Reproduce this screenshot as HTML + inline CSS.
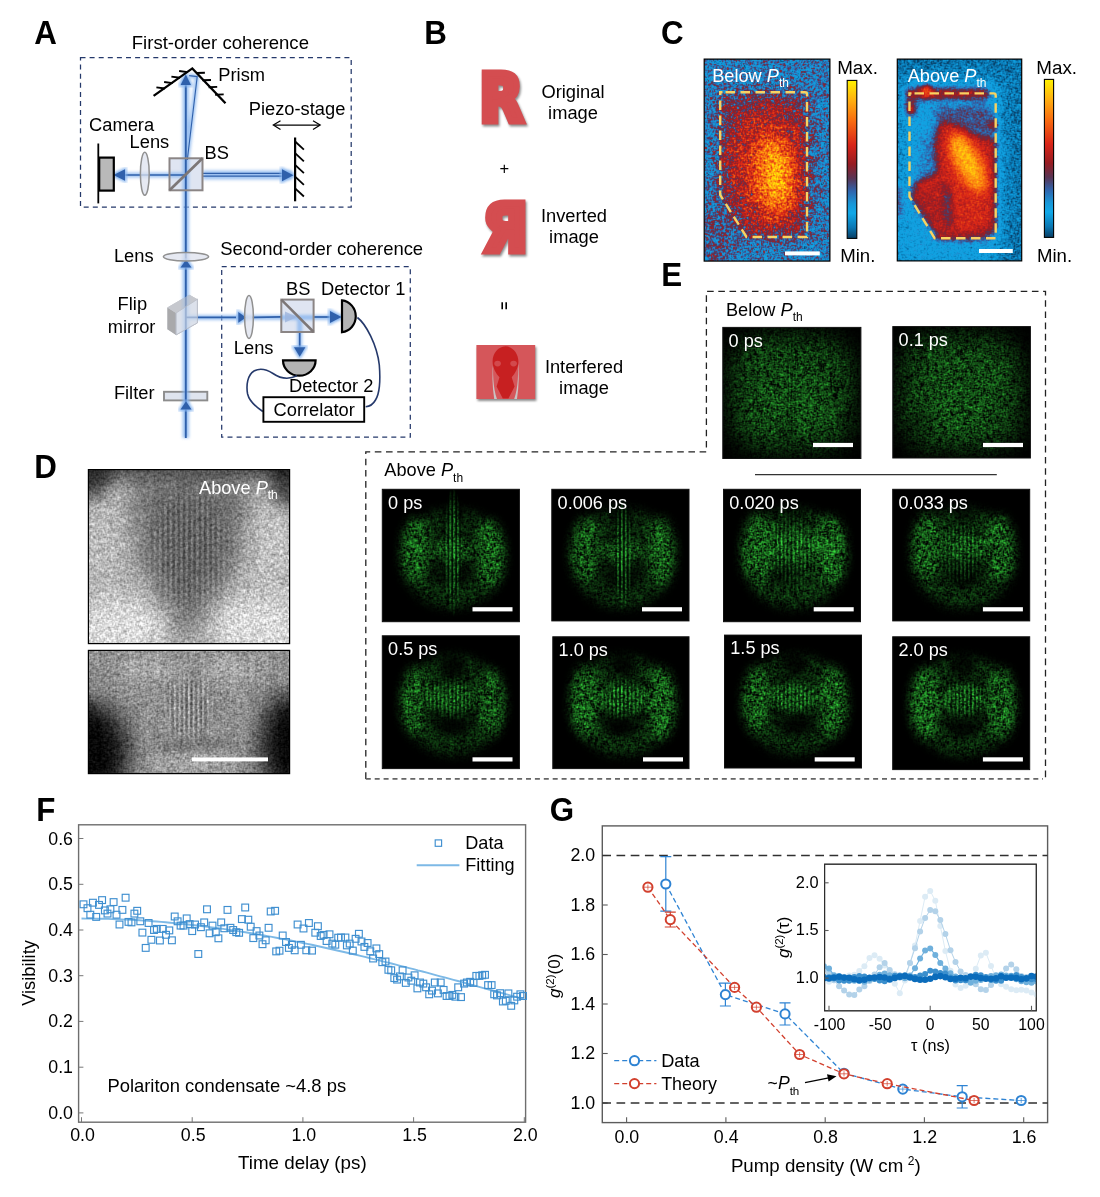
<!DOCTYPE html>
<html lang="en"><head><meta charset="utf-8"><title>Figure</title>
<style>
html,body{margin:0;padding:0;background:#fff;}
body{width:1100px;height:1197px;overflow:hidden;}
svg{display:block;font-family:"Liberation Sans", sans-serif;}
</style></head><body>
<svg width="1100" height="1197" viewBox="0 0 1100 1197">
<defs>
<filter id="glow" x="-20%" y="-20%" width="140%" height="140%" color-interpolation-filters="sRGB"><feGaussianBlur stdDeviation="1.6"/></filter>
<filter id="shadowB" x="-20%" y="-20%" width="150%" height="150%" color-interpolation-filters="sRGB"><feDropShadow dx="1.2" dy="2" stdDeviation="1.3" flood-color="#000" flood-opacity="0.45"/></filter>
<filter id="bl3" x="-50%" y="-50%" width="200%" height="200%" color-interpolation-filters="sRGB"><feGaussianBlur stdDeviation="3"/></filter>
<filter id="bl5" x="-50%" y="-50%" width="200%" height="200%" color-interpolation-filters="sRGB"><feGaussianBlur stdDeviation="5"/></filter>
<filter id="bl8" x="-50%" y="-50%" width="200%" height="200%" color-interpolation-filters="sRGB"><feGaussianBlur stdDeviation="8"/></filter>
<filter id="bl12" x="-50%" y="-50%" width="200%" height="200%" color-interpolation-filters="sRGB"><feGaussianBlur stdDeviation="12"/></filter>
<clipPath id="clipC1"><rect x="704.2" y="59.1" width="125.7" height="202"/></clipPath>
<filter id="cmC1" filterUnits="userSpaceOnUse" x="703.2" y="58.1" width="127.7" height="204" color-interpolation-filters="sRGB">
<feTurbulence type="fractalNoise" baseFrequency="2.3" numOctaves="1" seed="4" result="t"/>
<feColorMatrix in="t" type="matrix" values="1 0 0 0 0  1 0 0 0 0  1 0 0 0 0  0 0 0 0 1" result="n0"/>
<feConvolveMatrix in="n0" order="3" kernelMatrix="0 1 0 1 4 1 0 1 0" divisor="8" edgeMode="duplicate" preserveAlpha="true" result="n"/>
<feComposite in="SourceGraphic" in2="n" operator="arithmetic" k1="0" k2="1" k3="1.55" k4="-0.775" result="s"/>
<feComponentTransfer in="s" result="c"><feFuncR type="table" tableValues="0.031 0.034 0.037 0.041 0.047 0.054 0.060 0.071 0.084 0.100 0.129 0.159 0.188 0.237 0.286 0.335 0.399 0.467 0.534 0.599 0.653 0.707 0.761 0.815 0.855 0.876 0.897 0.918 0.939 0.960 0.975 0.980 0.985 0.990 0.995 1.000 1.000 1.000 1.000 1.000 1.000"/><feFuncG type="table" tableValues="0.243 0.324 0.406 0.481 0.533 0.586 0.638 0.641 0.612 0.576 0.515 0.453 0.392 0.333 0.275 0.216 0.183 0.157 0.131 0.111 0.118 0.124 0.131 0.137 0.159 0.205 0.251 0.297 0.342 0.388 0.436 0.487 0.538 0.589 0.639 0.690 0.742 0.794 0.845 0.897 0.949"/><feFuncB type="table" tableValues="0.392 0.504 0.616 0.717 0.774 0.831 0.887 0.893 0.865 0.833 0.780 0.727 0.675 0.567 0.459 0.351 0.286 0.231 0.177 0.132 0.124 0.115 0.107 0.099 0.092 0.087 0.082 0.076 0.071 0.066 0.063 0.063 0.063 0.063 0.063 0.063 0.050 0.038 0.025 0.013 0.000"/><feFuncA type="linear" slope="0" intercept="1"/></feComponentTransfer>
<feConvolveMatrix in="c" order="3" kernelMatrix="0 1 0 1 8 1 0 1 0" divisor="12" edgeMode="duplicate" preserveAlpha="true"/>
</filter>
<linearGradient id="cbar" x1="0" y1="0" x2="0" y2="1"><stop offset="0.000" stop-color="rgb(255, 242, 0)"/><stop offset="0.125" stop-color="rgb(255, 176, 16)"/><stop offset="0.260" stop-color="rgb(248, 106, 16)"/><stop offset="0.410" stop-color="rgb(216, 36, 24)"/><stop offset="0.530" stop-color="rgb(150, 28, 34)"/><stop offset="0.620" stop-color="rgb(88, 52, 84)"/><stop offset="0.700" stop-color="rgb(48, 100, 172)"/><stop offset="0.780" stop-color="rgb(24, 150, 215)"/><stop offset="0.840" stop-color="rgb(16, 168, 232)"/><stop offset="0.930" stop-color="rgb(10, 120, 180)"/><stop offset="1.000" stop-color="rgb(8, 62, 100)"/></linearGradient>
<clipPath id="clipC2"><rect x="897.3" y="59.1" width="124.4" height="201.8"/></clipPath>
<filter id="cmC2" filterUnits="userSpaceOnUse" x="896.3" y="58.1" width="126.4" height="203.8" color-interpolation-filters="sRGB">
<feTurbulence type="fractalNoise" baseFrequency="2.3" numOctaves="1" seed="9" result="t"/>
<feColorMatrix in="t" type="matrix" values="1 0 0 0 0  1 0 0 0 0  1 0 0 0 0  0 0 0 0 1" result="n0"/>
<feConvolveMatrix in="n0" order="3" kernelMatrix="0 1 0 1 4 1 0 1 0" divisor="8" edgeMode="duplicate" preserveAlpha="true" result="n"/>
<feComposite in="SourceGraphic" in2="n" operator="arithmetic" k1="0" k2="1" k3="0.66" k4="-0.33" result="s"/>
<feComponentTransfer in="s" result="c"><feFuncR type="table" tableValues="0.031 0.034 0.037 0.041 0.047 0.054 0.060 0.071 0.084 0.100 0.129 0.159 0.188 0.237 0.286 0.335 0.399 0.467 0.534 0.599 0.653 0.707 0.761 0.815 0.855 0.876 0.897 0.918 0.939 0.960 0.975 0.980 0.985 0.990 0.995 1.000 1.000 1.000 1.000 1.000 1.000"/><feFuncG type="table" tableValues="0.243 0.324 0.406 0.481 0.533 0.586 0.638 0.641 0.612 0.576 0.515 0.453 0.392 0.333 0.275 0.216 0.183 0.157 0.131 0.111 0.118 0.124 0.131 0.137 0.159 0.205 0.251 0.297 0.342 0.388 0.436 0.487 0.538 0.589 0.639 0.690 0.742 0.794 0.845 0.897 0.949"/><feFuncB type="table" tableValues="0.392 0.504 0.616 0.717 0.774 0.831 0.887 0.893 0.865 0.833 0.780 0.727 0.675 0.567 0.459 0.351 0.286 0.231 0.177 0.132 0.124 0.115 0.107 0.099 0.092 0.087 0.082 0.076 0.071 0.066 0.063 0.063 0.063 0.063 0.063 0.063 0.050 0.038 0.025 0.013 0.000"/><feFuncA type="linear" slope="0" intercept="1"/></feComponentTransfer>
<feConvolveMatrix in="c" order="3" kernelMatrix="0 1 0 1 8 1 0 1 0" divisor="12" edgeMode="duplicate" preserveAlpha="true"/>
</filter>
<pattern id="fr53" patternUnits="userSpaceOnUse" x="0" y="0" width="5.3" height="10"><rect x="0" y="0" width="2.4" height="10" fill="#fff"/><rect x="2.65" y="0" width="2.4" height="10" fill="#000"/></pattern>
<pattern id="fr47" patternUnits="userSpaceOnUse" x="0" y="0" width="4.7" height="10"><rect x="0" y="0" width="2.1" height="10" fill="#fff"/><rect x="2.35" y="0" width="2.1" height="10" fill="#000"/></pattern>
<radialGradient id="frMask1"><stop offset="0" stop-color="#fff" stop-opacity="1"/><stop offset="0.6" stop-color="#fff" stop-opacity="0.8"/><stop offset="1" stop-color="#fff" stop-opacity="0"/></radialGradient>
<mask id="mD1" maskUnits="userSpaceOnUse" x="80" y="460" width="220" height="200"><ellipse cx="188" cy="550" rx="48" ry="75" fill="url(#frMask1)"/></mask>
<mask id="mD2" maskUnits="userSpaceOnUse" x="80" y="640" width="220" height="140"><ellipse cx="189" cy="708" rx="30" ry="38" fill="url(#frMask1)"/></mask>
<clipPath id="clipD1"><rect x="88.4" y="469.6" width="201.2" height="174"/></clipPath>
<filter id="gD1" filterUnits="userSpaceOnUse" x="87.4" y="468.6" width="203.2" height="176" color-interpolation-filters="sRGB">
<feTurbulence type="fractalNoise" baseFrequency="2.3" numOctaves="1" seed="11" result="t"/>
<feColorMatrix in="t" type="matrix" values="1 0 0 0 0  1 0 0 0 0  1 0 0 0 0  0 0 0 0 1" result="n0"/>
<feConvolveMatrix in="n0" order="3" kernelMatrix="0 1 0 1 4 1 0 1 0" divisor="8" edgeMode="duplicate" preserveAlpha="true" result="n"/>
<feComposite in="SourceGraphic" in2="n" operator="arithmetic" k1="1.26" k2="0.37" k3="0.42000000000000004" k4="-0.21000000000000002" result="s"/>
<feConvolveMatrix in="s" order="3" kernelMatrix="0 1 0 1 8 1 0 1 0" divisor="12" edgeMode="duplicate" preserveAlpha="true"/>
</filter>
<clipPath id="clipD2"><rect x="88.4" y="650.4" width="201.2" height="123.2"/></clipPath>
<filter id="gD2" filterUnits="userSpaceOnUse" x="87.4" y="649.4" width="203.2" height="125.2" color-interpolation-filters="sRGB">
<feTurbulence type="fractalNoise" baseFrequency="2.3" numOctaves="1" seed="17" result="t"/>
<feColorMatrix in="t" type="matrix" values="1 0 0 0 0  1 0 0 0 0  1 0 0 0 0  0 0 0 0 1" result="n0"/>
<feConvolveMatrix in="n0" order="3" kernelMatrix="0 1 0 1 4 1 0 1 0" divisor="8" edgeMode="duplicate" preserveAlpha="true" result="n"/>
<feComposite in="SourceGraphic" in2="n" operator="arithmetic" k1="1.5" k2="0.25" k3="0.5" k4="-0.25" result="s"/>
<feConvolveMatrix in="s" order="3" kernelMatrix="0 1 0 1 8 1 0 1 0" divisor="12" edgeMode="duplicate" preserveAlpha="true"/>
</filter>
<pattern id="fr39w" patternUnits="userSpaceOnUse" x="0.9" y="0" width="3.9" height="10"><rect x="0" y="0" width="1.7" height="10" fill="#fff"/></pattern>
<pattern id="fr39b" patternUnits="userSpaceOnUse" x="0.9" y="0" width="3.9" height="10"><rect x="1.9" y="0" width="1.8" height="10" fill="#000"/></pattern>
<pattern id="fr39g" patternUnits="userSpaceOnUse" x="0.9" y="0" width="3.9" height="10"><rect x="0" y="0" width="1.6" height="10" fill="#35c845"/></pattern>
<pattern id="fr39k" patternUnits="userSpaceOnUse" x="0.9" y="0" width="3.9" height="10"><rect x="1.9" y="0" width="1.8" height="10" fill="#001a04"/></pattern>
<filter id="blF" x="-5%" y="-5%" width="110%" height="110%" color-interpolation-filters="sRGB"><feGaussianBlur stdDeviation="0.45 0.1"/></filter>
<radialGradient id="softW"><stop offset="0" stop-color="#fff" stop-opacity="1"/><stop offset="0.55" stop-color="#fff" stop-opacity="0.75"/><stop offset="1" stop-color="#fff" stop-opacity="0"/></radialGradient>
<radialGradient id="softK"><stop offset="0" stop-color="#000" stop-opacity="1"/><stop offset="0.5" stop-color="#000" stop-opacity="0.7"/><stop offset="1" stop-color="#000" stop-opacity="0"/></radialGradient>
<clipPath id="clipE1"><rect x="722.8" y="327.4" width="138.1" height="131.1"/></clipPath>
<filter id="gE1" filterUnits="userSpaceOnUse" x="721.8" y="326.4" width="140.1" height="133.1" color-interpolation-filters="sRGB">
<feTurbulence type="fractalNoise" baseFrequency="2.3" numOctaves="1" seed="21" result="t"/>
<feColorMatrix in="t" type="matrix" values="1 0 0 0 0  1 0 0 0 0  1 0 0 0 0  0 0 0 0 1" result="n0"/>
<feConvolveMatrix in="n0" order="3" kernelMatrix="0 1 0 1 4 1 0 1 0" divisor="8" edgeMode="duplicate" preserveAlpha="true" result="n"/>
<feComposite in="SourceGraphic" in2="n" operator="arithmetic" k1="5.2" k2="-2.08" k3="0" k4="0" result="s"/>
<feColorMatrix in="s" type="matrix" values="0.22 0 0 0 0  0.9 0 0 0 0  0.25 0 0 0 0  0 0 0 0 1" result="c"/>
<feConvolveMatrix in="c" order="3" kernelMatrix="0 1 0 1 8 1 0 1 0" divisor="12" edgeMode="duplicate" preserveAlpha="true"/>
</filter>
<mask id="mE1" maskUnits="userSpaceOnUse" x="722.8" y="327.4" width="138.1" height="131.1"><ellipse cx="791.8499999999999" cy="386.395" rx="8" ry="50" fill="url(#softW)"/></mask>
<clipPath id="clipE2"><rect x="892.8" y="326.6" width="137.6" height="131.4"/></clipPath>
<filter id="gE2" filterUnits="userSpaceOnUse" x="891.8" y="325.6" width="139.6" height="133.4" color-interpolation-filters="sRGB">
<feTurbulence type="fractalNoise" baseFrequency="2.3" numOctaves="1" seed="22" result="t"/>
<feColorMatrix in="t" type="matrix" values="1 0 0 0 0  1 0 0 0 0  1 0 0 0 0  0 0 0 0 1" result="n0"/>
<feConvolveMatrix in="n0" order="3" kernelMatrix="0 1 0 1 4 1 0 1 0" divisor="8" edgeMode="duplicate" preserveAlpha="true" result="n"/>
<feComposite in="SourceGraphic" in2="n" operator="arithmetic" k1="5.2" k2="-2.08" k3="0" k4="0" result="s"/>
<feColorMatrix in="s" type="matrix" values="0.22 0 0 0 0  0.9 0 0 0 0  0.25 0 0 0 0  0 0 0 0 1" result="c"/>
<feConvolveMatrix in="c" order="3" kernelMatrix="0 1 0 1 8 1 0 1 0" divisor="12" edgeMode="duplicate" preserveAlpha="true"/>
</filter>
<mask id="mE2" maskUnits="userSpaceOnUse" x="892.8" y="326.6" width="137.6" height="131.4"><ellipse cx="964.352" cy="398.87" rx="8" ry="30" fill="url(#softW)"/></mask>
<clipPath id="clipE3"><rect x="382.3" y="489.3" width="137.1" height="132.4"/></clipPath>
<filter id="gE3" filterUnits="userSpaceOnUse" x="381.3" y="488.3" width="139.1" height="134.4" color-interpolation-filters="sRGB">
<feTurbulence type="fractalNoise" baseFrequency="2.3" numOctaves="1" seed="31" result="t"/>
<feColorMatrix in="t" type="matrix" values="1 0 0 0 0  1 0 0 0 0  1 0 0 0 0  0 0 0 0 1" result="n0"/>
<feConvolveMatrix in="n0" order="3" kernelMatrix="0 1 0 1 4 1 0 1 0" divisor="8" edgeMode="duplicate" preserveAlpha="true" result="n"/>
<feComposite in="SourceGraphic" in2="n" operator="arithmetic" k1="5.2" k2="-2.08" k3="0" k4="0" result="s"/>
<feColorMatrix in="s" type="matrix" values="0.22 0 0 0 0  0.9 0 0 0 0  0.25 0 0 0 0  0 0 0 0 1" result="c"/>
<feConvolveMatrix in="c" order="3" kernelMatrix="0 1 0 1 8 1 0 1 0" divisor="12" edgeMode="duplicate" preserveAlpha="true"/>
</filter>
<mask id="mE3" maskUnits="userSpaceOnUse" x="382.3" y="489.3" width="137.1" height="132.4"><ellipse cx="452.9065" cy="551.528" rx="10" ry="66" fill="url(#softW)"/></mask>
<clipPath id="clipE4"><rect x="551.8" y="489.3" width="137.2" height="131.6"/></clipPath>
<filter id="gE4" filterUnits="userSpaceOnUse" x="550.8" y="488.3" width="139.2" height="133.6" color-interpolation-filters="sRGB">
<feTurbulence type="fractalNoise" baseFrequency="2.3" numOctaves="1" seed="32" result="t"/>
<feColorMatrix in="t" type="matrix" values="1 0 0 0 0  1 0 0 0 0  1 0 0 0 0  0 0 0 0 1" result="n0"/>
<feConvolveMatrix in="n0" order="3" kernelMatrix="0 1 0 1 4 1 0 1 0" divisor="8" edgeMode="duplicate" preserveAlpha="true" result="n"/>
<feComposite in="SourceGraphic" in2="n" operator="arithmetic" k1="5.2" k2="-2.08" k3="0" k4="0" result="s"/>
<feColorMatrix in="s" type="matrix" values="0.22 0 0 0 0  0.9 0 0 0 0  0.25 0 0 0 0  0 0 0 0 1" result="c"/>
<feConvolveMatrix in="c" order="3" kernelMatrix="0 1 0 1 8 1 0 1 0" divisor="12" edgeMode="duplicate" preserveAlpha="true"/>
</filter>
<mask id="mE4" maskUnits="userSpaceOnUse" x="551.8" y="489.3" width="137.2" height="131.6"><ellipse cx="623.144" cy="555.1" rx="10" ry="58" fill="url(#softW)"/></mask>
<clipPath id="clipE5"><rect x="723.5" y="489.3" width="137.0" height="132.4"/></clipPath>
<filter id="gE5" filterUnits="userSpaceOnUse" x="722.5" y="488.3" width="139.0" height="134.4" color-interpolation-filters="sRGB">
<feTurbulence type="fractalNoise" baseFrequency="2.3" numOctaves="1" seed="33" result="t"/>
<feColorMatrix in="t" type="matrix" values="1 0 0 0 0  1 0 0 0 0  1 0 0 0 0  0 0 0 0 1" result="n0"/>
<feConvolveMatrix in="n0" order="3" kernelMatrix="0 1 0 1 4 1 0 1 0" divisor="8" edgeMode="duplicate" preserveAlpha="true" result="n"/>
<feComposite in="SourceGraphic" in2="n" operator="arithmetic" k1="5.2" k2="-2.08" k3="0" k4="0" result="s"/>
<feColorMatrix in="s" type="matrix" values="0.22 0 0 0 0  0.9 0 0 0 0  0.25 0 0 0 0  0 0 0 0 1" result="c"/>
<feConvolveMatrix in="c" order="3" kernelMatrix="0 1 0 1 8 1 0 1 0" divisor="12" edgeMode="duplicate" preserveAlpha="true"/>
</filter>
<mask id="mE5" maskUnits="userSpaceOnUse" x="723.5" y="489.3" width="137.0" height="132.4"><ellipse cx="792.0" cy="548.88" rx="26" ry="42" fill="url(#softW)"/></mask>
<clipPath id="clipE6"><rect x="892.7" y="489.3" width="137.0" height="131.6"/></clipPath>
<filter id="gE6" filterUnits="userSpaceOnUse" x="891.7" y="488.3" width="139.0" height="133.6" color-interpolation-filters="sRGB">
<feTurbulence type="fractalNoise" baseFrequency="2.3" numOctaves="1" seed="34" result="t"/>
<feColorMatrix in="t" type="matrix" values="1 0 0 0 0  1 0 0 0 0  1 0 0 0 0  0 0 0 0 1" result="n0"/>
<feConvolveMatrix in="n0" order="3" kernelMatrix="0 1 0 1 4 1 0 1 0" divisor="8" edgeMode="duplicate" preserveAlpha="true" result="n"/>
<feComposite in="SourceGraphic" in2="n" operator="arithmetic" k1="5.2" k2="-2.08" k3="0" k4="0" result="s"/>
<feColorMatrix in="s" type="matrix" values="0.22 0 0 0 0  0.9 0 0 0 0  0.25 0 0 0 0  0 0 0 0 1" result="c"/>
<feConvolveMatrix in="c" order="3" kernelMatrix="0 1 0 1 8 1 0 1 0" divisor="12" edgeMode="duplicate" preserveAlpha="true"/>
</filter>
<mask id="mE6" maskUnits="userSpaceOnUse" x="892.7" y="489.3" width="137.0" height="131.6"><ellipse cx="961.2" cy="551.152" rx="26" ry="36" fill="url(#softW)"/></mask>
<clipPath id="clipE7"><rect x="382.3" y="635.8" width="137.1" height="132.8"/></clipPath>
<filter id="gE7" filterUnits="userSpaceOnUse" x="381.3" y="634.8" width="139.1" height="134.8" color-interpolation-filters="sRGB">
<feTurbulence type="fractalNoise" baseFrequency="2.3" numOctaves="1" seed="35" result="t"/>
<feColorMatrix in="t" type="matrix" values="1 0 0 0 0  1 0 0 0 0  1 0 0 0 0  0 0 0 0 1" result="n0"/>
<feConvolveMatrix in="n0" order="3" kernelMatrix="0 1 0 1 4 1 0 1 0" divisor="8" edgeMode="duplicate" preserveAlpha="true" result="n"/>
<feComposite in="SourceGraphic" in2="n" operator="arithmetic" k1="5.2" k2="-2.08" k3="0" k4="0" result="s"/>
<feColorMatrix in="s" type="matrix" values="0.22 0 0 0 0  0.9 0 0 0 0  0.25 0 0 0 0  0 0 0 0 1" result="c"/>
<feConvolveMatrix in="c" order="3" kernelMatrix="0 1 0 1 8 1 0 1 0" divisor="12" edgeMode="duplicate" preserveAlpha="true"/>
</filter>
<mask id="mE7" maskUnits="userSpaceOnUse" x="382.3" y="635.8" width="137.1" height="132.8"><ellipse cx="450.85" cy="698.216" rx="28" ry="22" fill="url(#softW)"/></mask>
<clipPath id="clipE8"><rect x="552.8" y="636.8" width="136.2" height="131.8"/></clipPath>
<filter id="gE8" filterUnits="userSpaceOnUse" x="551.8" y="635.8" width="138.2" height="133.8" color-interpolation-filters="sRGB">
<feTurbulence type="fractalNoise" baseFrequency="2.3" numOctaves="1" seed="36" result="t"/>
<feColorMatrix in="t" type="matrix" values="1 0 0 0 0  1 0 0 0 0  1 0 0 0 0  0 0 0 0 1" result="n0"/>
<feConvolveMatrix in="n0" order="3" kernelMatrix="0 1 0 1 4 1 0 1 0" divisor="8" edgeMode="duplicate" preserveAlpha="true" result="n"/>
<feComposite in="SourceGraphic" in2="n" operator="arithmetic" k1="5.2" k2="-2.08" k3="0" k4="0" result="s"/>
<feColorMatrix in="s" type="matrix" values="0.22 0 0 0 0  0.9 0 0 0 0  0.25 0 0 0 0  0 0 0 0 1" result="c"/>
<feConvolveMatrix in="c" order="3" kernelMatrix="0 1 0 1 8 1 0 1 0" divisor="12" edgeMode="duplicate" preserveAlpha="true"/>
</filter>
<mask id="mE8" maskUnits="userSpaceOnUse" x="552.8" y="636.8" width="136.2" height="131.8"><ellipse cx="623.6239999999999" cy="698.746" rx="28" ry="22" fill="url(#softW)"/></mask>
<clipPath id="clipE9"><rect x="724.5" y="635.1" width="137.0" height="132.9"/></clipPath>
<filter id="gE9" filterUnits="userSpaceOnUse" x="723.5" y="634.1" width="139.0" height="134.9" color-interpolation-filters="sRGB">
<feTurbulence type="fractalNoise" baseFrequency="2.3" numOctaves="1" seed="37" result="t"/>
<feColorMatrix in="t" type="matrix" values="1 0 0 0 0  1 0 0 0 0  1 0 0 0 0  0 0 0 0 1" result="n0"/>
<feConvolveMatrix in="n0" order="3" kernelMatrix="0 1 0 1 4 1 0 1 0" divisor="8" edgeMode="duplicate" preserveAlpha="true" result="n"/>
<feComposite in="SourceGraphic" in2="n" operator="arithmetic" k1="5.2" k2="-2.08" k3="0" k4="0" result="s"/>
<feColorMatrix in="s" type="matrix" values="0.22 0 0 0 0  0.9 0 0 0 0  0.25 0 0 0 0  0 0 0 0 1" result="c"/>
<feConvolveMatrix in="c" order="3" kernelMatrix="0 1 0 1 8 1 0 1 0" divisor="12" edgeMode="duplicate" preserveAlpha="true"/>
</filter>
<mask id="mE9" maskUnits="userSpaceOnUse" x="724.5" y="635.1" width="137.0" height="132.9"><ellipse cx="794.37" cy="697.563" rx="26" ry="20" fill="url(#softW)"/></mask>
<clipPath id="clipE10"><rect x="892.7" y="636.8" width="137.0" height="132.8"/></clipPath>
<filter id="gE10" filterUnits="userSpaceOnUse" x="891.7" y="635.8" width="139.0" height="134.8" color-interpolation-filters="sRGB">
<feTurbulence type="fractalNoise" baseFrequency="2.3" numOctaves="1" seed="38" result="t"/>
<feColorMatrix in="t" type="matrix" values="1 0 0 0 0  1 0 0 0 0  1 0 0 0 0  0 0 0 0 1" result="n0"/>
<feConvolveMatrix in="n0" order="3" kernelMatrix="0 1 0 1 4 1 0 1 0" divisor="8" edgeMode="duplicate" preserveAlpha="true" result="n"/>
<feComposite in="SourceGraphic" in2="n" operator="arithmetic" k1="5.2" k2="-2.08" k3="0" k4="0" result="s"/>
<feColorMatrix in="s" type="matrix" values="0.22 0 0 0 0  0.9 0 0 0 0  0.25 0 0 0 0  0 0 0 0 1" result="c"/>
<feConvolveMatrix in="c" order="3" kernelMatrix="0 1 0 1 8 1 0 1 0" divisor="12" edgeMode="duplicate" preserveAlpha="true"/>
</filter>
<mask id="mE10" maskUnits="userSpaceOnUse" x="892.7" y="636.8" width="137.0" height="132.8"><ellipse cx="963.94" cy="699.216" rx="26" ry="20" fill="url(#softW)"/></mask>
<clipPath id="clipIn"><rect x="824.6" y="864.2" width="211.69999999999993" height="146.5999999999999"/></clipPath>
</defs>
<rect width="1100" height="1197" fill="#fff"/>
<text transform="translate(34.2,44.1) scale(0.95,1)" font-size="33" font-weight="bold">A</text>
<text transform="translate(424.3,44.1) scale(0.95,1)" font-size="33" font-weight="bold">B</text>
<text transform="translate(661,44.3) scale(0.95,1)" font-size="33" font-weight="bold">C</text>
<text transform="translate(34.2,478.2) scale(0.95,1)" font-size="33" font-weight="bold">D</text>
<text transform="translate(661.2,285.6) scale(0.95,1)" font-size="33" font-weight="bold">E</text>
<text transform="translate(36.2,821.4) scale(0.95,1)" font-size="33" font-weight="bold">F</text>
<text transform="translate(549.8,821.4) scale(0.95,1)" font-size="33" font-weight="bold">G</text>
<g id="panelA">
<text x="131.8" y="49" font-size="18.55" text-anchor="start" fill="#000" font-weight="normal" >First-order coherence</text>
<text x="220.2" y="255.2" font-size="18.45" text-anchor="start" fill="#000" font-weight="normal" >Second-order coherence</text>
<rect x="80.5" y="57.7" width="270.7" height="149.3" fill="none" stroke="#25396b" stroke-width="1.25" stroke-dasharray="5 4.1"/>
<rect x="221.7" y="266.7" width="188.6" height="170.5" fill="none" stroke="#25396b" stroke-width="1.25" stroke-dasharray="5 4.1"/>
<rect x="169.5" y="158.3" width="33" height="32" fill="#dfe5f2" stroke="none"/>
<rect x="281.3" y="299.6" width="32.3" height="32.4" fill="#dfe5f2" stroke="none"/>
<rect x="164" y="391.8" width="43.3" height="8.6" fill="#dfe4ee" stroke="#8c8c8c" stroke-width="1.9"/>
<polygon points="167.4,307.4 189.3,294.7 197.4,299.2 197.4,322.9 176.1,334.9 167.4,329.3" fill="#c9cdd6"/>
<polygon points="167.4,307.4 176.1,312.9 176.1,334.9 167.4,329.3" fill="#a9a9ab"/>
<polygon points="167.4,307.4 189.3,294.7 197.4,299.2 176.1,312.9" fill="#c4c6cc"/>
<polygon points="176.1,312.9 197.4,299.2 197.4,322.9 176.1,334.9" fill="#d8dde9" stroke="#b9bcc6" stroke-width="0.8"/>
<g filter="url(#glow)" stroke="#86b4ee" fill="none" stroke-linecap="butt" opacity="0.8">
<path d="M185.8,438 L185.8,78" stroke-width="6.5"/>
<path d="M186,175 L116,175" stroke-width="5"/>
<path d="M203,175 L292,175" stroke-width="9"/>
<path d="M187,160 L197,77 L189,75.5" stroke-width="4.5"/>
<path d="M186,317.4 L340,317.4" stroke-width="5"/>
<path d="M299.7,320 L299.7,354" stroke-width="5"/>
</g>
<g stroke="#2f60ab" fill="none">
<path d="M185.8,438 L185.8,78" stroke-width="1.9"/>
<path d="M186,175 L116,175" stroke-width="1.6"/>
<path d="M203,173.4 L286,173.4 M203,176.2 L286,176.2" stroke-width="1.3"/>
<path d="M187.3,160 L197.2,76.6 L189,75.6" stroke-width="1.1"/>
<path d="M186,317.4 L236,317.4 M252,317.4 L281,316.8" stroke-width="1.7"/>
<path d="M313.6,317 L332,317" stroke-width="1.7"/>
<path d="M299.7,332 L299.7,349" stroke-width="1.7"/>
</g>
<polygon points="185.8,74.5 180.6,85 191,85" fill="#86b4ee" stroke="#86b4ee" stroke-width="3" filter="url(#glow)"/>
<polygon points="185.8,74.5 180.6,85 191,85" fill="#2f60ab"/>
<polygon points="113.5,175 125,169.3 125,180.7" fill="#86b4ee" stroke="#86b4ee" stroke-width="3" filter="url(#glow)"/>
<polygon points="113.5,175 125,169.3 125,180.7" fill="#2f60ab"/>
<polygon points="293.5,175.2 282,169.2 282,181.2" fill="#86b4ee" stroke="#86b4ee" stroke-width="3" filter="url(#glow)"/>
<polygon points="293.5,175.2 282,169.2 282,181.2" fill="#2f60ab"/>
<polygon points="186,259.8 180.5,267.6 191.5,267.6" fill="#86b4ee" stroke="#86b4ee" stroke-width="3" filter="url(#glow)"/>
<polygon points="186,259.8 180.5,267.6 191.5,267.6" fill="#2f60ab"/>
<polygon points="186,401.2 180.5,409.6 191.5,409.6" fill="#86b4ee" stroke="#86b4ee" stroke-width="3" filter="url(#glow)"/>
<polygon points="186,401.2 180.5,409.6 191.5,409.6" fill="#2f60ab"/>
<polygon points="246,317.4 238.3,312 238.3,322.8" fill="#86b4ee" stroke="#86b4ee" stroke-width="3" filter="url(#glow)"/>
<polygon points="246,317.4 238.3,312 238.3,322.8" fill="#2f60ab"/>
<polygon points="341.5,317 330,311 330,323" fill="#86b4ee" stroke="#86b4ee" stroke-width="3" filter="url(#glow)"/>
<polygon points="341.5,317 330,311 330,323" fill="#2f60ab"/>
<polygon points="299.7,356.8 294,347.3 305.4,347.3" fill="#86b4ee" stroke="#86b4ee" stroke-width="3" filter="url(#glow)"/>
<polygon points="299.7,356.8 294,347.3 305.4,347.3" fill="#2f60ab"/>
<polygon points="297,317 285,311.5 285,322.5" fill="#9db4dc" opacity="0.8"/>
<polygon points="176.1,312.9 197.4,299.2 197.4,322.9 176.1,334.9" fill="#dfe3ec" fill-opacity="0.62" stroke="#b9bcc6" stroke-width="0.8"/>
<polygon points="167.4,307.4 189.3,294.7 197.4,299.2 176.1,312.9" fill="#c8cad0" fill-opacity="0.55"/>
<g stroke="#000" stroke-width="2.3" fill="none" stroke-linecap="butt" stroke-linejoin="miter">
<path d="M153.6,95.9 L192.3,68.4 L225.5,103.2"/>
</g>
<g stroke="#000" stroke-width="1.9" fill="none">
<path d="M179.1,71.0 L187.7,72.1"/>
<path d="M171.4,76.6 L180.0,77.69999999999999"/>
<path d="M164.1,82.0 L172.7,83.1"/>
<path d="M156.4,87.4 L165.0,88.5"/>
<path d="M204.9,72.7 L196.3,73.0"/>
<path d="M211.0,80.0 L202.4,80.3"/>
<path d="M217.2,86.9 L208.6,87.2"/>
<path d="M223.7,94.4 L215.1,94.7"/>
</g>
<path d="M98.3,143.5 L98.3,203.4" stroke="#000" stroke-width="1.8"/>
<rect x="99.2" y="157.6" width="14.6" height="33" fill="#b9b9b9" stroke="#000" stroke-width="2.2"/>
<ellipse cx="144.8" cy="173.8" rx="4.4" ry="21.5" fill="#dde2ed" fill-opacity="0.75" stroke="#909090" stroke-width="1.5"/>
<ellipse cx="186" cy="256.8" rx="22.6" ry="4.2" fill="#dde2ed" fill-opacity="0.75" stroke="#909090" stroke-width="1.5"/>
<ellipse cx="249" cy="317" rx="4.4" ry="21.5" fill="#dde2ed" fill-opacity="0.75" stroke="#909090" stroke-width="1.5"/>
<rect x="169.5" y="158.3" width="33" height="32" fill="none" stroke="#8b8585" stroke-width="2"/>
<path d="M169.5,190.3 L202.5,158.3" stroke="#7d7777" stroke-width="2.7"/>
<rect x="281.3" y="299.6" width="32.3" height="32.4" fill="none" stroke="#8b8585" stroke-width="2"/>
<path d="M281.3,299.6 L313.6,332" stroke="#7d7777" stroke-width="2.5"/>
<path d="M295.1,137.5 L295.1,201.3" stroke="#000" stroke-width="2.2"/>
<g stroke="#000" stroke-width="1.8">
<path d="M295.1,141.5 L303.9,149.7"/>
<path d="M295.1,153.2 L303.9,161.4"/>
<path d="M295.1,164.9 L303.9,173.1"/>
<path d="M295.1,176.6 L303.9,184.8"/>
<path d="M295.1,188.3 L303.9,196.5"/>
</g>
<path d="M274,125.1 L319.5,125.1" stroke="#000" stroke-width="1.2"/>
<path d="M280.5,120.8 L273.3,125.1 L280.5,129.4 M313,120.8 L320.2,125.1 L313,129.4" stroke="#000" stroke-width="1.2" fill="none"/>
<path d="M342,300.4 A15.5,16 0 0 1 342,332.2 Z" fill="#b4b4b4" stroke="#000" stroke-width="2.2"/>
<path d="M283,360.3 A16.3,15.4 0 0 0 315.6,360.3 Z" fill="#b4b4b4" stroke="#000" stroke-width="2.2"/>
<path d="M357.4,317.5 C366,324 377,345 379.3,365 C380.5,380 380.5,392 375.5,400 C373,404.5 369,406.5 365.7,406.8" fill="none" stroke="#25396b" stroke-width="1.6"/>
<path d="M297,375.8 C288,380 281,379 273,373.5 C266,369 259.5,368 254,371 C247.5,375 246,385 247.6,394 C249.5,402 256,407 262.8,411.5" fill="none" stroke="#25396b" stroke-width="1.6"/>
<rect x="263.4" y="397.2" width="100.8" height="24.6" fill="#fff" stroke="#000" stroke-width="1.9"/>
<text x="314.2" y="416.2" font-size="18.3" text-anchor="middle" fill="#000" font-weight="normal" >Correlator</text>
<text x="218.3" y="80.6" font-size="18.3" text-anchor="start" fill="#000" font-weight="normal" >Prism</text>
<text x="248.8" y="114.7" font-size="18.3" text-anchor="start" fill="#000" font-weight="normal" >Piezo-stage</text>
<text x="89.1" y="130.8" font-size="18.3" text-anchor="start" fill="#000" font-weight="normal" >Camera</text>
<text x="129.6" y="148.4" font-size="18.3" text-anchor="start" fill="#000" font-weight="normal" >Lens</text>
<text x="204.5" y="159" font-size="18.3" text-anchor="start" fill="#000" font-weight="normal" >BS</text>
<text x="113.9" y="261.9" font-size="18.3" text-anchor="start" fill="#000" font-weight="normal" >Lens</text>
<text x="117.6" y="310" font-size="18.3" text-anchor="start" fill="#000" font-weight="normal" >Flip</text>
<text x="107.7" y="332.5" font-size="18.3" text-anchor="start" fill="#000" font-weight="normal" >mirror</text>
<text x="233.8" y="354.4" font-size="18.3" text-anchor="start" fill="#000" font-weight="normal" >Lens</text>
<text x="286.0" y="295" font-size="18.3" text-anchor="start" fill="#000" font-weight="normal" >BS</text>
<text x="321.0" y="295" font-size="18.3" text-anchor="start" fill="#000" font-weight="normal" >Detector 1</text>
<text x="289.0" y="391.5" font-size="18.3" text-anchor="start" fill="#000" font-weight="normal" >Detector 2</text>
<text x="113.9" y="399.4" font-size="18.3" text-anchor="start" fill="#000" font-weight="normal" >Filter</text>
</g>
<g id="panelB">
<g filter="url(#shadowB)"><text transform="translate(479.6,121.3) scale(0.86,1)" font-family="&quot;DejaVu Sans&quot;, &quot;Liberation Sans&quot;, sans-serif" font-weight="bold" font-size="66" fill="#d44d50" stroke="#d44d50" stroke-width="7" stroke-linejoin="miter" x="0" y="0">R</text></g>
<g filter="url(#shadowB)"><text transform="translate(482.4,251.3) scale(0.89,1)" font-family="&quot;DejaVu Sans&quot;, &quot;Liberation Sans&quot;, sans-serif" font-weight="bold" font-size="66" fill="#d44d50" stroke="#d44d50" stroke-width="7" stroke-linejoin="miter" x="0" y="0">Я</text></g>
<text x="573" y="97.7" font-size="18.3" text-anchor="middle" fill="#000" font-weight="normal" >Original</text>
<text x="573" y="119.2" font-size="18.3" text-anchor="middle" fill="#000" font-weight="normal" >image</text>
<text x="574" y="222.1" font-size="18.3" text-anchor="middle" fill="#000" font-weight="normal" >Inverted</text>
<text x="574" y="243.4" font-size="18.3" text-anchor="middle" fill="#000" font-weight="normal" >image</text>
<text x="584" y="372.9" font-size="18.3" text-anchor="middle" fill="#000" font-weight="normal" >Interfered</text>
<text x="584" y="394.4" font-size="18.3" text-anchor="middle" fill="#000" font-weight="normal" >image</text>
<text x="504.4" y="173.8" font-size="16.5" text-anchor="middle" fill="#000" font-weight="normal" >+</text>
<text transform="translate(499.2,305.8) rotate(90)" font-size="14" font-weight="bold" text-anchor="middle" x="0" y="0">=</text>
<g filter="url(#shadowB)">
<rect x="476.4" y="345" width="58.8" height="54" fill="#d5565a"/>
</g>
<path d="M493.6,359 C492.5,372 493,388 497,399 L494.2,399 C492.2,386 491.8,372 493.6,359 Z" fill="#c9c3c3"/>
<path d="M517.6,359 C518.7,372 518.2,388 514.2,399 L517,399 C519,386 519.4,372 517.6,359 Z" fill="#c9c3c3"/>
<path d="M505.5,346.3 C513,346.6 518.4,353.5 518.4,361.5 C518.4,368 515,373.5 511.7,377.3 L514.6,386.5 L508.4,398.5 L502.8,398.5 L496.6,386.5 L499.5,377.3 C496,373.5 492.6,368 492.6,361.5 C492.6,353.5 498,346.6 505.5,346.3 Z" fill="#c72021"/>
<ellipse cx="497.6" cy="363.6" rx="3.3" ry="2.8" fill="#d2494c"/>
<ellipse cx="513.6" cy="363.6" rx="3.3" ry="2.8" fill="#d2494c"/>
</g>
<g id="panelC">
<g clip-path="url(#clipC1)" filter="url(#cmC1)">
<rect x="702.2" y="57.1" width="129.7" height="206" fill="#414141"/>
<path d="M720,93 L808,93 L808,238 L746,238 L720,196 Z" fill="#fff" opacity="0.24" filter="url(#bl8)"/>
<ellipse cx="768" cy="170" rx="36" ry="60" fill="#fff" opacity="0.25" filter="url(#bl12)"/>
<ellipse cx="716" cy="236" rx="13" ry="30" fill="#fff" opacity="0.14" filter="url(#bl8)"/>
<ellipse cx="775" cy="175" rx="19" ry="38" fill="#fff" opacity="0.55" filter="url(#bl8)" transform="rotate(-8 775 175)"/>
<ellipse cx="777" cy="175" rx="8" ry="24" fill="#fff" opacity="0.34" filter="url(#bl5)" transform="rotate(-8 777 175)"/>
</g>
<rect x="704.2" y="59.1" width="125.7" height="202" fill="none" stroke="#000" stroke-width="1.2"/>
<path d="M722.5,92.3 L805,92.3 Q807,92.3 807,94.3 L807,237 L746.5,237 L720.2,195 L720.2,92.3 Z" fill="none" stroke="#f8d262" stroke-width="2.4" stroke-dasharray="9.5 5.5" stroke-dashoffset="-3"/>
<rect x="785" y="251.4" width="34.8" height="4" fill="#fff"/>
<text x="712.2" y="81.5" font-size="18.2" fill="#fff">Below <tspan font-style="italic">P</tspan><tspan font-size="12.0" dy="5.5">th</tspan></text>
<rect x="847.2" y="80.4" width="9.6" height="158" fill="url(#cbar)" stroke="#000" stroke-width="1.1"/>
<text x="837.2" y="74.2" font-size="18.8" text-anchor="start" fill="#000" font-weight="normal" >Max.</text>
<text x="840.2" y="262" font-size="18.6" text-anchor="start" fill="#000" font-weight="normal" >Min.</text>
<g clip-path="url(#clipC2)" filter="url(#cmC2)">
<rect x="895.3" y="57.1" width="128.4" height="205.8" fill="#121212"/>
<rect x="902" y="80" width="98" height="176" rx="14" fill="#2d2d2d" filter="url(#bl8)"/>
<rect x="899" y="232" width="95" height="30" fill="#292929" filter="url(#bl5)"/>
<path d="M934,108 L992,104 L994,138 L938,130 Z" fill="#fff" opacity="0.2" filter="url(#bl5)"/>
<path d="M922,140 L940,118 L944,176 L914,190 Z" fill="#fff" opacity="0.10" filter="url(#bl5)"/>
<path d="M941.9,123 L956.5,126 L971,133 L983.8,137 L996.6,138.4 L996.6,233 L938.3,236.7 L934.6,233 L911,198.5 L912.8,186.7 L921.9,179 L934.6,175 L938.3,167.5 L934.6,149.3 L936.5,134.7 Z" fill="#fff" opacity="0.40" filter="url(#bl3)"/>
<path d="M947,130 L972,137 L990,146 L992,214 L982,232 L952,232 L950,200 L944,168 Z" fill="#fff" opacity="0.16" filter="url(#bl5)"/>
<path d="M943,186 L950,189 L953,224 L946,226 Z" fill="#000" opacity="0.3" filter="url(#bl3)"/>
<circle cx="934" cy="184" r="2.6" fill="#fff" opacity="0.3" filter="url(#bl3)"/>
<circle cx="938" cy="194" r="2.6" fill="#fff" opacity="0.3" filter="url(#bl3)"/>
<circle cx="925" cy="188" r="2.6" fill="#fff" opacity="0.3" filter="url(#bl3)"/>
<circle cx="940" cy="223" r="2.6" fill="#fff" opacity="0.3" filter="url(#bl3)"/>
<rect x="905" y="88.5" width="84" height="10.5" rx="4" fill="#fff" opacity="0.42" filter="url(#bl3)"/>
<circle cx="926.5" cy="90.5" r="5.5" fill="#fff" opacity="0.55" filter="url(#bl3)"/>
<ellipse cx="911" cy="108" rx="5" ry="8" fill="#fff" opacity="0.5" filter="url(#bl3)"/>
<ellipse cx="993.5" cy="125" rx="3.5" ry="6.5" fill="#fff" opacity="0.45" filter="url(#bl3)"/>
<rect x="936" y="234" width="54" height="7" fill="#fff" opacity="0.3" filter="url(#bl3)"/>
<ellipse cx="968" cy="163" rx="12.5" ry="32" fill="#fff" opacity="0.60" filter="url(#bl5)" transform="rotate(-27 968 163)"/>
<ellipse cx="965" cy="156" rx="7" ry="20" fill="#fff" opacity="0.30" filter="url(#bl3)" transform="rotate(-27 965 156)"/>
<ellipse cx="898.5" cy="202" rx="4" ry="20" fill="#fff" opacity="0.3" filter="url(#bl3)"/>
</g>
<rect x="897.3" y="59.1" width="124.4" height="201.8" fill="none" stroke="#000" stroke-width="1.2"/>
<path d="M911.5,93.4 L993.7,93.4 Q995.7,93.4 995.7,95.4 L995.7,238.2 L934.6,238.2 L909.5,196.6 L909.5,93.4 Z" fill="none" stroke="#f8d262" stroke-width="2.4" stroke-dasharray="9.5 5.5" stroke-dashoffset="-3"/>
<rect x="979" y="249" width="33.8" height="4" fill="#fff"/>
<text x="907.7" y="81.5" font-size="18.2" fill="#fff">Above <tspan font-style="italic">P</tspan><tspan font-size="12.0" dy="5.5">th</tspan></text>
<rect x="1044.4" y="79.4" width="9.2" height="158" fill="url(#cbar)" stroke="#000" stroke-width="1.1"/>
<text x="1036.3" y="74" font-size="18.8" text-anchor="start" fill="#000" font-weight="normal" >Max.</text>
<text x="1037" y="262" font-size="18.6" text-anchor="start" fill="#000" font-weight="normal" >Min.</text>
</g>
<g id="panelD">
<g clip-path="url(#clipD1)" filter="url(#gD1)">
<rect x="86.4" y="467.6" width="205.2" height="178" fill="#b2b2b2"/>
<ellipse cx="120" cy="628" rx="48" ry="30" fill="#fff" opacity="0.55" filter="url(#bl12)"/>
<ellipse cx="258" cy="628" rx="48" ry="30" fill="#fff" opacity="0.55" filter="url(#bl12)"/>
<ellipse cx="268" cy="545" rx="22" ry="45" fill="#fff" opacity="0.22" filter="url(#bl12)"/>
<ellipse cx="106" cy="545" rx="18" ry="45" fill="#fff" opacity="0.12" filter="url(#bl12)"/>
<path d="M128,478 L252,478 L240,560 L205,612 L190,642 L182,642 L170,612 L138,560 Z" fill="#000" opacity="0.36" filter="url(#bl12)"/>
<ellipse cx="189" cy="540" rx="30" ry="55" fill="#000" opacity="0.16" filter="url(#bl12)"/>
<rect x="80" y="455" width="220" height="24" fill="#000" opacity="0.55" filter="url(#bl8)"/>
<ellipse cx="88" cy="476" rx="24" ry="24" fill="#000" opacity="0.6" filter="url(#bl8)"/>
<ellipse cx="290" cy="478" rx="22" ry="30" fill="#000" opacity="0.6" filter="url(#bl8)"/>
<rect x="130" y="470" width="120" height="170" fill="url(#fr53)" opacity="0.16" mask="url(#mD1)"/>
</g>
<rect x="88.4" y="469.6" width="201.2" height="174" fill="none" stroke="#000" stroke-width="1.2"/>
<text x="199" y="493.5" font-size="18.2" fill="#fff">Above <tspan font-style="italic">P</tspan><tspan font-size="12.0" dy="5.5">th</tspan></text>
<g clip-path="url(#clipD2)" filter="url(#gD2)">
<rect x="86.4" y="648.4" width="205.2" height="127.2" fill="#8f8f8f"/>
<ellipse cx="150" cy="668" rx="30" ry="12" fill="#fff" opacity="0.25" filter="url(#bl8)"/>
<ellipse cx="232" cy="668" rx="30" ry="12" fill="#fff" opacity="0.25" filter="url(#bl8)"/>
<ellipse cx="195" cy="765" rx="50" ry="10" fill="#fff" opacity="0.2" filter="url(#bl8)"/>
<ellipse cx="86" cy="752" rx="42" ry="52" fill="#000" opacity="0.95" filter="url(#bl12)"/>
<ellipse cx="292" cy="745" rx="32" ry="52" fill="#000" opacity="0.95" filter="url(#bl12)"/>
<ellipse cx="195" cy="744" rx="40" ry="5" fill="#000" opacity="0.25" filter="url(#bl5)"/>
<rect x="150" y="665" width="80" height="90" fill="url(#fr47)" opacity="0.30" mask="url(#mD2)"/>
</g>
<rect x="88.4" y="650.4" width="201.2" height="123.2" fill="none" stroke="#000" stroke-width="1.2"/>
<rect x="192" y="757.4" width="76" height="4" fill="#fff"/>
</g>
<g id="panelE">
<path d="M365.8,778.9 L365.8,451.9 L706.4,451.9 L706.4,291.4 L1045.5,291.4 L1045.5,778.9" fill="none" stroke="#222" stroke-width="1.3" stroke-dasharray="6.6 4.6"/>
<path d="M365.8,778.9 L1043,778.9" fill="none" stroke="#666" stroke-width="1.9" stroke-dasharray="5 3.9"/>
<path d="M755,474.6 L996.8,474.6" stroke="#333" stroke-width="1.3"/>
<text x="725.9" y="315.5" font-size="18.2">Below <tspan font-style="italic">P</tspan><tspan font-size="12.0" dy="5.5">th</tspan></text>
<text x="384.3" y="476.3" font-size="18.2">Above <tspan font-style="italic">P</tspan><tspan font-size="12.0" dy="5.5">th</tspan></text>
<g clip-path="url(#clipE1)" filter="url(#gE1)">
<rect x="720.8" y="325.4" width="142.1" height="135.1" fill="#000"/>
<rect x="731.8" y="336.4" width="120.1" height="113.1" rx="34" fill="#808080" filter="url(#bl12)"/>
<ellipse cx="793.9214999999999" cy="397.95" rx="32" ry="36" fill="#fff" opacity="0.2" filter="url(#bl12)"/>
<ellipse cx="787.9214999999999" cy="430.95" rx="10" ry="14" fill="#000" opacity="0.3" filter="url(#bl5)"/>
<g mask="url(#mE1)"><rect x="722.8" y="327.4" width="138.1" height="131.1" fill="url(#fr39b)" opacity="0.33"/><rect x="722.8" y="327.4" width="138.1" height="131.1" fill="url(#fr39w)" opacity="0.3"/></g>
</g>
<g clip-path="url(#clipE1)"><g mask="url(#mE1)" filter="url(#blF)"><rect x="722.8" y="327.4" width="138.1" height="131.1" fill="url(#fr39k)" opacity="0.09"/><rect x="722.8" y="327.4" width="138.1" height="131.1" fill="url(#fr39g)" opacity="0.105"/></g></g>
<rect x="722.8" y="327.4" width="138.1" height="131.1" fill="none" stroke="#111" stroke-width="1"/>
<rect x="813.0" y="442.9" width="40" height="4.2" fill="#fff"/>
<text x="728.5999999999999" y="346.7" font-size="18.1" fill="#fff">0 ps</text>
<g clip-path="url(#clipE2)" filter="url(#gE2)">
<rect x="890.8" y="324.6" width="141.6" height="135.4" fill="#000"/>
<rect x="901.8" y="335.6" width="119.6" height="113.4" rx="34" fill="#808080" filter="url(#bl12)"/>
<ellipse cx="963.664" cy="397.3" rx="32" ry="36" fill="#fff" opacity="0.2" filter="url(#bl12)"/>
<ellipse cx="921.664" cy="422.3" rx="14" ry="14" fill="#000" opacity="0.25" filter="url(#bl5)"/>
<g mask="url(#mE2)"><rect x="892.8" y="326.6" width="137.6" height="131.4" fill="url(#fr39b)" opacity="0.165"/><rect x="892.8" y="326.6" width="137.6" height="131.4" fill="url(#fr39w)" opacity="0.15"/></g>
</g>
<g clip-path="url(#clipE2)"><g mask="url(#mE2)" filter="url(#blF)"><rect x="892.8" y="326.6" width="137.6" height="131.4" fill="url(#fr39k)" opacity="0.045"/><rect x="892.8" y="326.6" width="137.6" height="131.4" fill="url(#fr39g)" opacity="0.0525"/></g></g>
<rect x="892.8" y="326.6" width="137.6" height="131.4" fill="none" stroke="#111" stroke-width="1"/>
<rect x="983.0" y="442.9" width="40" height="4.2" fill="#fff"/>
<text x="898.5999999999999" y="345.90000000000003" font-size="18.1" fill="#fff">0.1 ps</text>
<g clip-path="url(#clipE3)" filter="url(#gE3)">
<rect x="380.3" y="487.3" width="141.1" height="136.4" fill="#000"/>
<ellipse cx="452.9065" cy="558.5" rx="39" ry="37" fill="none" stroke="#4b4b4b" stroke-width="26" filter="url(#bl5)"/>
<ellipse cx="452.9065" cy="558.5" rx="30" ry="28" fill="#292929" filter="url(#bl5)"/>
<ellipse cx="415.9065" cy="549.5" rx="14" ry="32" fill="#fff" opacity="0.55" filter="url(#bl5)"/>
<ellipse cx="489.9065" cy="553.5" rx="14" ry="34" fill="#fff" opacity="0.55" filter="url(#bl5)"/>
<ellipse cx="452.9065" cy="549.5" rx="22" ry="11" fill="#fff" opacity="0.55" filter="url(#bl5)"/>
<ellipse cx="452.9065" cy="515.5" rx="11" ry="12" fill="#000" opacity="0.8" filter="url(#bl3)"/>
<ellipse cx="454.9065" cy="575.5" rx="11" ry="10" fill="#000" opacity="0.6" filter="url(#bl3)"/>
<g mask="url(#mE3)"><rect x="382.3" y="489.3" width="137.1" height="132.4" fill="url(#fr39b)" opacity="0.935"/><rect x="382.3" y="489.3" width="137.1" height="132.4" fill="url(#fr39w)" opacity="0.85"/></g>
</g>
<g clip-path="url(#clipE3)"><g mask="url(#mE3)" filter="url(#blF)"><rect x="382.3" y="489.3" width="137.1" height="132.4" fill="url(#fr39k)" opacity="0.255"/><rect x="382.3" y="489.3" width="137.1" height="132.4" fill="url(#fr39g)" opacity="0.2975"/></g></g>
<rect x="382.3" y="489.3" width="137.1" height="132.4" fill="none" stroke="#111" stroke-width="1"/>
<rect x="472.5" y="607.2" width="40" height="4.2" fill="#fff"/>
<text x="388.1" y="508.6" font-size="18.1" fill="#fff">0 ps</text>
<g clip-path="url(#clipE4)" filter="url(#gE4)">
<rect x="549.8" y="487.3" width="141.2" height="135.6" fill="#000"/>
<ellipse cx="622.458" cy="558.1" rx="39" ry="37" fill="none" stroke="#4b4b4b" stroke-width="26" filter="url(#bl5)"/>
<ellipse cx="622.458" cy="558.1" rx="30" ry="28" fill="#292929" filter="url(#bl5)"/>
<ellipse cx="585.458" cy="549.1" rx="14" ry="32" fill="#fff" opacity="0.52" filter="url(#bl5)"/>
<ellipse cx="660.458" cy="551.1" rx="14" ry="34" fill="#fff" opacity="0.55" filter="url(#bl5)"/>
<ellipse cx="622.458" cy="550.1" rx="22" ry="11" fill="#fff" opacity="0.55" filter="url(#bl5)"/>
<ellipse cx="622.458" cy="515.1" rx="11" ry="12" fill="#000" opacity="0.8" filter="url(#bl3)"/>
<ellipse cx="622.458" cy="577.1" rx="12" ry="10" fill="#000" opacity="0.6" filter="url(#bl3)"/>
<g mask="url(#mE4)"><rect x="551.8" y="489.3" width="137.2" height="131.6" fill="url(#fr39b)" opacity="0.8250000000000001"/><rect x="551.8" y="489.3" width="137.2" height="131.6" fill="url(#fr39w)" opacity="0.75"/></g>
</g>
<g clip-path="url(#clipE4)"><g mask="url(#mE4)" filter="url(#blF)"><rect x="551.8" y="489.3" width="137.2" height="131.6" fill="url(#fr39k)" opacity="0.22499999999999998"/><rect x="551.8" y="489.3" width="137.2" height="131.6" fill="url(#fr39g)" opacity="0.26249999999999996"/></g></g>
<rect x="551.8" y="489.3" width="137.2" height="131.6" fill="none" stroke="#111" stroke-width="1"/>
<rect x="642.0" y="607.2" width="40" height="4.2" fill="#fff"/>
<text x="557.5999999999999" y="508.6" font-size="18.1" fill="#fff">0.006 ps</text>
<g clip-path="url(#clipE5)" filter="url(#gE5)">
<rect x="721.5" y="487.3" width="141.0" height="136.4" fill="#000"/>
<ellipse cx="794.0550000000001" cy="558.5" rx="39" ry="37" fill="none" stroke="#575757" stroke-width="26" filter="url(#bl5)"/>
<ellipse cx="794.0550000000001" cy="558.5" rx="30" ry="28" fill="#4c4c4c" filter="url(#bl5)"/>
<ellipse cx="758.0550000000001" cy="547.5" rx="16" ry="34" fill="#fff" opacity="0.59" filter="url(#bl5)"/>
<ellipse cx="830.0550000000001" cy="549.5" rx="16" ry="34" fill="#fff" opacity="0.59" filter="url(#bl5)"/>
<ellipse cx="794.0550000000001" cy="547.5" rx="26" ry="14" fill="#fff" opacity="0.62" filter="url(#bl5)"/>
<ellipse cx="794.0550000000001" cy="513.5" rx="10" ry="10" fill="#000" opacity="0.6" filter="url(#bl3)"/>
<ellipse cx="786.0550000000001" cy="575.5" rx="11" ry="9" fill="#000" opacity="0.7" filter="url(#bl3)"/>
<g mask="url(#mE5)"><rect x="723.5" y="489.3" width="137.0" height="132.4" fill="url(#fr39b)" opacity="0.55"/><rect x="723.5" y="489.3" width="137.0" height="132.4" fill="url(#fr39w)" opacity="0.5"/></g>
</g>
<g clip-path="url(#clipE5)"><g mask="url(#mE5)" filter="url(#blF)"><rect x="723.5" y="489.3" width="137.0" height="132.4" fill="url(#fr39k)" opacity="0.15"/><rect x="723.5" y="489.3" width="137.0" height="132.4" fill="url(#fr39g)" opacity="0.175"/></g></g>
<rect x="723.5" y="489.3" width="137.0" height="132.4" fill="none" stroke="#111" stroke-width="1"/>
<rect x="813.7" y="607.2" width="40" height="4.2" fill="#fff"/>
<text x="729.3" y="508.6" font-size="18.1" fill="#fff">0.020 ps</text>
<g clip-path="url(#clipE6)" filter="url(#gE6)">
<rect x="890.7" y="487.3" width="141.0" height="135.6" fill="#000"/>
<ellipse cx="963.2550000000001" cy="558.1" rx="39" ry="37" fill="none" stroke="#4f4f4f" stroke-width="26" filter="url(#bl5)"/>
<ellipse cx="963.2550000000001" cy="558.1" rx="30" ry="28" fill="#383838" filter="url(#bl5)"/>
<ellipse cx="927.2550000000001" cy="545.1" rx="15" ry="32" fill="#fff" opacity="0.55" filter="url(#bl5)"/>
<ellipse cx="999.2550000000001" cy="547.1" rx="15" ry="32" fill="#fff" opacity="0.55" filter="url(#bl5)"/>
<ellipse cx="963.2550000000001" cy="546.1" rx="24" ry="12" fill="#fff" opacity="0.56" filter="url(#bl5)"/>
<ellipse cx="963.2550000000001" cy="513.1" rx="10" ry="10" fill="#000" opacity="0.6" filter="url(#bl3)"/>
<ellipse cx="963.2550000000001" cy="575.1" rx="14" ry="10" fill="#000" opacity="0.8" filter="url(#bl3)"/>
<g mask="url(#mE6)"><rect x="892.7" y="489.3" width="137.0" height="131.6" fill="url(#fr39b)" opacity="0.49500000000000005"/><rect x="892.7" y="489.3" width="137.0" height="131.6" fill="url(#fr39w)" opacity="0.45"/></g>
</g>
<g clip-path="url(#clipE6)"><g mask="url(#mE6)" filter="url(#blF)"><rect x="892.7" y="489.3" width="137.0" height="131.6" fill="url(#fr39k)" opacity="0.135"/><rect x="892.7" y="489.3" width="137.0" height="131.6" fill="url(#fr39g)" opacity="0.1575"/></g></g>
<rect x="892.7" y="489.3" width="137.0" height="131.6" fill="none" stroke="#111" stroke-width="1"/>
<rect x="982.9000000000001" y="607.2" width="40" height="4.2" fill="#fff"/>
<text x="898.5" y="508.6" font-size="18.1" fill="#fff">0.033 ps</text>
<g clip-path="url(#clipE7)" filter="url(#gE7)">
<rect x="380.3" y="633.8" width="141.1" height="136.8" fill="#000"/>
<ellipse cx="452.9065" cy="705.1999999999999" rx="39" ry="37" fill="none" stroke="#4b4b4b" stroke-width="26" filter="url(#bl5)"/>
<ellipse cx="452.9065" cy="705.1999999999999" rx="30" ry="28" fill="#292929" filter="url(#bl5)"/>
<ellipse cx="414.9065" cy="700.1999999999999" rx="13" ry="34" fill="#fff" opacity="0.52" filter="url(#bl5)"/>
<ellipse cx="490.9065" cy="702.1999999999999" rx="13" ry="34" fill="#fff" opacity="0.52" filter="url(#bl5)"/>
<ellipse cx="452.9065" cy="697.1999999999999" rx="25" ry="13" fill="#fff" opacity="0.56" filter="url(#bl5)"/>
<ellipse cx="452.9065" cy="666.1999999999999" rx="13" ry="11" fill="#000" opacity="0.8" filter="url(#bl3)"/>
<ellipse cx="452.9065" cy="726.1999999999999" rx="13" ry="9" fill="#000" opacity="0.7" filter="url(#bl3)"/>
<g mask="url(#mE7)"><rect x="382.3" y="635.8" width="137.1" height="132.8" fill="url(#fr39b)" opacity="0.66"/><rect x="382.3" y="635.8" width="137.1" height="132.8" fill="url(#fr39w)" opacity="0.6"/></g>
</g>
<g clip-path="url(#clipE7)"><g mask="url(#mE7)" filter="url(#blF)"><rect x="382.3" y="635.8" width="137.1" height="132.8" fill="url(#fr39k)" opacity="0.18"/><rect x="382.3" y="635.8" width="137.1" height="132.8" fill="url(#fr39g)" opacity="0.21"/></g></g>
<rect x="382.3" y="635.8" width="137.1" height="132.8" fill="none" stroke="#111" stroke-width="1"/>
<rect x="472.5" y="757.3" width="40" height="4.2" fill="#fff"/>
<text x="388.1" y="655.0999999999999" font-size="18.1" fill="#fff">0.5 ps</text>
<g clip-path="url(#clipE8)" filter="url(#gE8)">
<rect x="550.8" y="634.8" width="140.2" height="135.8" fill="#000"/>
<ellipse cx="622.943" cy="705.6999999999999" rx="39" ry="37" fill="none" stroke="#4f4f4f" stroke-width="26" filter="url(#bl5)"/>
<ellipse cx="622.943" cy="705.6999999999999" rx="30" ry="28" fill="#292929" filter="url(#bl5)"/>
<ellipse cx="584.943" cy="700.6999999999999" rx="14" ry="36" fill="#fff" opacity="0.57" filter="url(#bl5)"/>
<ellipse cx="660.943" cy="702.6999999999999" rx="14" ry="36" fill="#fff" opacity="0.57" filter="url(#bl5)"/>
<ellipse cx="622.943" cy="697.6999999999999" rx="26" ry="14" fill="#fff" opacity="0.62" filter="url(#bl5)"/>
<ellipse cx="622.943" cy="664.6999999999999" rx="13" ry="11" fill="#000" opacity="0.8" filter="url(#bl3)"/>
<ellipse cx="620.943" cy="726.6999999999999" rx="13" ry="9" fill="#000" opacity="0.8" filter="url(#bl3)"/>
<g mask="url(#mE8)"><rect x="552.8" y="636.8" width="136.2" height="131.8" fill="url(#fr39b)" opacity="0.7150000000000001"/><rect x="552.8" y="636.8" width="136.2" height="131.8" fill="url(#fr39w)" opacity="0.65"/></g>
</g>
<g clip-path="url(#clipE8)"><g mask="url(#mE8)" filter="url(#blF)"><rect x="552.8" y="636.8" width="136.2" height="131.8" fill="url(#fr39k)" opacity="0.195"/><rect x="552.8" y="636.8" width="136.2" height="131.8" fill="url(#fr39g)" opacity="0.22749999999999998"/></g></g>
<rect x="552.8" y="636.8" width="136.2" height="131.8" fill="none" stroke="#111" stroke-width="1"/>
<rect x="643.0" y="757.3" width="40" height="4.2" fill="#fff"/>
<text x="558.5999999999999" y="656.0999999999999" font-size="18.1" fill="#fff">1.0 ps</text>
<g clip-path="url(#clipE9)" filter="url(#gE9)">
<rect x="722.5" y="633.1" width="141.0" height="136.9" fill="#000"/>
<ellipse cx="795.0550000000001" cy="704.5500000000001" rx="39" ry="37" fill="none" stroke="#4b4b4b" stroke-width="26" filter="url(#bl5)"/>
<ellipse cx="795.0550000000001" cy="704.5500000000001" rx="30" ry="28" fill="#292929" filter="url(#bl5)"/>
<ellipse cx="757.0550000000001" cy="699.5500000000001" rx="14" ry="34" fill="#fff" opacity="0.52" filter="url(#bl5)"/>
<ellipse cx="833.0550000000001" cy="701.5500000000001" rx="14" ry="36" fill="#fff" opacity="0.55" filter="url(#bl5)"/>
<ellipse cx="795.0550000000001" cy="696.5500000000001" rx="25" ry="13" fill="#fff" opacity="0.6" filter="url(#bl5)"/>
<ellipse cx="795.0550000000001" cy="663.5500000000001" rx="13" ry="11" fill="#000" opacity="0.8" filter="url(#bl3)"/>
<ellipse cx="797.0550000000001" cy="725.5500000000001" rx="13" ry="9" fill="#000" opacity="0.7" filter="url(#bl3)"/>
<g mask="url(#mE9)"><rect x="724.5" y="635.1" width="137.0" height="132.9" fill="url(#fr39b)" opacity="0.66"/><rect x="724.5" y="635.1" width="137.0" height="132.9" fill="url(#fr39w)" opacity="0.6"/></g>
</g>
<g clip-path="url(#clipE9)"><g mask="url(#mE9)" filter="url(#blF)"><rect x="724.5" y="635.1" width="137.0" height="132.9" fill="url(#fr39k)" opacity="0.18"/><rect x="724.5" y="635.1" width="137.0" height="132.9" fill="url(#fr39g)" opacity="0.21"/></g></g>
<rect x="724.5" y="635.1" width="137.0" height="132.9" fill="none" stroke="#111" stroke-width="1"/>
<rect x="814.7" y="757.3" width="40" height="4.2" fill="#fff"/>
<text x="730.3" y="654.4" font-size="18.1" fill="#fff">1.5 ps</text>
<g clip-path="url(#clipE10)" filter="url(#gE10)">
<rect x="890.7" y="634.8" width="141.0" height="136.8" fill="#000"/>
<ellipse cx="963.2550000000001" cy="706.1999999999999" rx="39" ry="37" fill="none" stroke="#4f4f4f" stroke-width="26" filter="url(#bl5)"/>
<ellipse cx="963.2550000000001" cy="706.1999999999999" rx="30" ry="28" fill="#292929" filter="url(#bl5)"/>
<ellipse cx="925.2550000000001" cy="703.1999999999999" rx="15" ry="36" fill="#fff" opacity="0.57" filter="url(#bl5)"/>
<ellipse cx="1001.2550000000001" cy="703.1999999999999" rx="14" ry="36" fill="#fff" opacity="0.55" filter="url(#bl5)"/>
<ellipse cx="963.2550000000001" cy="698.1999999999999" rx="25" ry="13" fill="#fff" opacity="0.6" filter="url(#bl5)"/>
<ellipse cx="963.2550000000001" cy="665.1999999999999" rx="13" ry="11" fill="#000" opacity="0.75" filter="url(#bl3)"/>
<ellipse cx="963.2550000000001" cy="729.1999999999999" rx="13" ry="9" fill="#000" opacity="0.6" filter="url(#bl3)"/>
<g mask="url(#mE10)"><rect x="892.7" y="636.8" width="137.0" height="132.8" fill="url(#fr39b)" opacity="0.66"/><rect x="892.7" y="636.8" width="137.0" height="132.8" fill="url(#fr39w)" opacity="0.6"/></g>
</g>
<g clip-path="url(#clipE10)"><g mask="url(#mE10)" filter="url(#blF)"><rect x="892.7" y="636.8" width="137.0" height="132.8" fill="url(#fr39k)" opacity="0.18"/><rect x="892.7" y="636.8" width="137.0" height="132.8" fill="url(#fr39g)" opacity="0.21"/></g></g>
<rect x="892.7" y="636.8" width="137.0" height="132.8" fill="none" stroke="#111" stroke-width="1"/>
<rect x="982.9000000000001" y="757.3" width="40" height="4.2" fill="#fff"/>
<text x="898.5" y="656.0999999999999" font-size="18.1" fill="#fff">2.0 ps</text>
</g>
<g id="panelF">
<rect x="78.6" y="824.8" width="447.0" height="297.4000000000001" fill="none" stroke="#6e6e6e" stroke-width="1.4"/>
<path d="M78.6,1112.9 L83.39999999999999,1112.9" stroke="#777" stroke-width="1"/>
<text x="73.0" y="1118.9" font-size="17.8" text-anchor="end" fill="#000" font-weight="normal" >0.0</text>
<path d="M78.6,1067.2 L83.39999999999999,1067.2" stroke="#777" stroke-width="1"/>
<text x="73.0" y="1073.2" font-size="17.8" text-anchor="end" fill="#000" font-weight="normal" >0.1</text>
<path d="M78.6,1021.4 L83.39999999999999,1021.4" stroke="#777" stroke-width="1"/>
<text x="73.0" y="1027.4" font-size="17.8" text-anchor="end" fill="#000" font-weight="normal" >0.2</text>
<path d="M78.6,975.7 L83.39999999999999,975.7" stroke="#777" stroke-width="1"/>
<text x="73.0" y="981.7" font-size="17.8" text-anchor="end" fill="#000" font-weight="normal" >0.3</text>
<path d="M78.6,930.0 L83.39999999999999,930.0" stroke="#777" stroke-width="1"/>
<text x="73.0" y="936.0" font-size="17.8" text-anchor="end" fill="#000" font-weight="normal" >0.4</text>
<path d="M78.6,884.3 L83.39999999999999,884.3" stroke="#777" stroke-width="1"/>
<text x="73.0" y="890.3" font-size="17.8" text-anchor="end" fill="#000" font-weight="normal" >0.5</text>
<path d="M78.6,838.5 L83.39999999999999,838.5" stroke="#777" stroke-width="1"/>
<text x="73.0" y="844.5" font-size="17.8" text-anchor="end" fill="#000" font-weight="normal" >0.6</text>
<path d="M81.5,1122.2 L81.5,1117.2" stroke="#777" stroke-width="1"/>
<text x="82.5" y="1141.2" font-size="17.8" text-anchor="middle" fill="#000" font-weight="normal" >0.0</text>
<path d="M192.2,1122.2 L192.2,1117.2" stroke="#777" stroke-width="1"/>
<text x="193.2" y="1141.2" font-size="17.8" text-anchor="middle" fill="#000" font-weight="normal" >0.5</text>
<path d="M302.9,1122.2 L302.9,1117.2" stroke="#777" stroke-width="1"/>
<text x="303.9" y="1141.2" font-size="17.8" text-anchor="middle" fill="#000" font-weight="normal" >1.0</text>
<path d="M413.6,1122.2 L413.6,1117.2" stroke="#777" stroke-width="1"/>
<text x="414.6" y="1141.2" font-size="17.8" text-anchor="middle" fill="#000" font-weight="normal" >1.5</text>
<path d="M524.3,1122.2 L524.3,1117.2" stroke="#777" stroke-width="1"/>
<text x="525.3" y="1141.2" font-size="17.8" text-anchor="middle" fill="#000" font-weight="normal" >2.0</text>
<text x="302.3" y="1169" font-size="18.8" text-anchor="middle" fill="#000" font-weight="normal" >Time delay (ps)</text>
<text transform="translate(34.6,973) rotate(-90)" font-size="18.3" text-anchor="middle">Visibility</text>
<polyline points="81.5,918.5 85.9,918.6 90.4,918.6 94.8,918.6 99.2,918.7 103.6,918.8 108.1,918.9 112.5,919.1 116.9,919.2 121.4,919.4 125.8,919.6 130.2,919.8 134.6,920.0 139.1,920.3 143.5,920.6 147.9,920.9 152.3,921.2 156.8,921.5 161.2,921.9 165.6,922.3 170.1,922.7 174.5,923.1 178.9,923.5 183.3,924.0 187.8,924.5 192.2,925.0 196.6,925.5 201.1,926.0 205.5,926.6 209.9,927.1 214.3,927.7 218.8,928.3 223.2,928.9 227.6,929.6 232.1,930.2 236.5,930.9 240.9,931.6 245.3,932.3 249.8,933.0 254.2,933.8 258.6,934.5 263.0,935.3 267.5,936.1 271.9,936.9 276.3,937.7 280.8,938.6 285.2,939.4 289.6,940.3 294.0,941.2 298.5,942.1 302.9,943.0 307.3,943.9 311.8,944.8 316.2,945.8 320.6,946.7 325.0,947.7 329.5,948.7 333.9,949.7 338.3,950.7 342.8,951.7 347.2,952.7 351.6,953.7 356.0,954.8 360.5,955.8 364.9,956.9 369.3,958.0 373.7,959.1 378.2,960.2 382.6,961.3 387.0,962.4 391.5,963.5 395.9,964.6 400.3,965.8 404.7,966.9 409.2,968.1 413.6,969.2 418.0,970.4 422.5,971.5 426.9,972.7 431.3,973.9 435.7,975.1 440.2,976.3 444.6,977.4 449.0,978.6 453.5,979.8 457.9,981.0 462.3,982.2 466.7,983.5 471.2,984.7 475.6,985.9 480.0,987.1 484.4,988.3 488.9,989.5 493.3,990.7 497.7,992.0 502.2,993.2 506.6,994.4 511.0,995.6 515.4,996.8 519.9,998.1 524.3,999.3" fill="none" stroke="#7db9e6" stroke-width="1.9"/>
<g fill="none" stroke="#3f8fd0" stroke-width="1.15">
<rect x="80.1" y="900.9" width="6.8" height="6.8"/>
<rect x="84.1" y="904.8" width="6.8" height="6.8"/>
<rect x="86.9" y="911.3" width="6.8" height="6.8"/>
<rect x="89.5" y="899.3" width="6.8" height="6.8"/>
<rect x="92.8" y="913.5" width="6.8" height="6.8"/>
<rect x="95.6" y="901.5" width="6.8" height="6.8"/>
<rect x="98.7" y="896.7" width="6.8" height="6.8"/>
<rect x="101.5" y="907.0" width="6.8" height="6.8"/>
<rect x="104.1" y="910.2" width="6.8" height="6.8"/>
<rect x="107.0" y="905.9" width="6.8" height="6.8"/>
<rect x="110.2" y="898.7" width="6.8" height="6.8"/>
<rect x="113.1" y="911.3" width="6.8" height="6.8"/>
<rect x="116.1" y="921.1" width="6.8" height="6.8"/>
<rect x="119.0" y="906.5" width="6.8" height="6.8"/>
<rect x="122.2" y="894.3" width="6.8" height="6.8"/>
<rect x="125.1" y="918.5" width="6.8" height="6.8"/>
<rect x="128.1" y="919.0" width="6.8" height="6.8"/>
<rect x="131.0" y="910.2" width="6.8" height="6.8"/>
<rect x="133.8" y="907.4" width="6.8" height="6.8"/>
<rect x="136.9" y="917.9" width="6.8" height="6.8"/>
<rect x="139.0" y="929.2" width="6.8" height="6.8"/>
<rect x="142.3" y="944.5" width="6.8" height="6.8"/>
<rect x="145.2" y="919.6" width="6.8" height="6.8"/>
<rect x="148.0" y="936.4" width="6.8" height="6.8"/>
<rect x="150.6" y="926.6" width="6.8" height="6.8"/>
<rect x="153.4" y="925.5" width="6.8" height="6.8"/>
<rect x="156.5" y="937.1" width="6.8" height="6.8"/>
<rect x="159.3" y="925.5" width="6.8" height="6.8"/>
<rect x="162.6" y="931.4" width="6.8" height="6.8"/>
<rect x="165.9" y="927.0" width="6.8" height="6.8"/>
<rect x="168.5" y="936.9" width="6.8" height="6.8"/>
<rect x="171.3" y="913.1" width="6.8" height="6.8"/>
<rect x="174.2" y="917.9" width="6.8" height="6.8"/>
<rect x="177.2" y="922.2" width="6.8" height="6.8"/>
<rect x="180.1" y="922.2" width="6.8" height="6.8"/>
<rect x="183.3" y="915.0" width="6.8" height="6.8"/>
<rect x="186.2" y="920.7" width="6.8" height="6.8"/>
<rect x="188.8" y="927.7" width="6.8" height="6.8"/>
<rect x="191.6" y="921.1" width="6.8" height="6.8"/>
<rect x="194.9" y="950.6" width="6.8" height="6.8"/>
<rect x="197.5" y="923.8" width="6.8" height="6.8"/>
<rect x="200.8" y="919.0" width="6.8" height="6.8"/>
<rect x="203.6" y="905.9" width="6.8" height="6.8"/>
<rect x="206.2" y="929.9" width="6.8" height="6.8"/>
<rect x="209.1" y="922.2" width="6.8" height="6.8"/>
<rect x="212.4" y="928.8" width="6.8" height="6.8"/>
<rect x="215.0" y="934.9" width="6.8" height="6.8"/>
<rect x="217.8" y="919.0" width="6.8" height="6.8"/>
<rect x="220.9" y="924.9" width="6.8" height="6.8"/>
<rect x="224.1" y="906.5" width="6.8" height="6.8"/>
<rect x="227.0" y="924.4" width="6.8" height="6.8"/>
<rect x="229.8" y="926.6" width="6.8" height="6.8"/>
<rect x="232.9" y="928.8" width="6.8" height="6.8"/>
<rect x="235.7" y="929.4" width="6.8" height="6.8"/>
<rect x="238.5" y="915.7" width="6.8" height="6.8"/>
<rect x="241.8" y="904.1" width="6.8" height="6.8"/>
<rect x="244.9" y="916.3" width="6.8" height="6.8"/>
<rect x="247.3" y="923.3" width="6.8" height="6.8"/>
<rect x="249.9" y="934.7" width="6.8" height="6.8"/>
<rect x="253.2" y="927.7" width="6.8" height="6.8"/>
<rect x="256.0" y="932.1" width="6.8" height="6.8"/>
<rect x="259.1" y="940.8" width="6.8" height="6.8"/>
<rect x="262.3" y="936.9" width="6.8" height="6.8"/>
<rect x="265.2" y="924.4" width="6.8" height="6.8"/>
<rect x="267.3" y="908.1" width="6.8" height="6.8"/>
<rect x="271.7" y="907.4" width="6.8" height="6.8"/>
<rect x="272.8" y="948.0" width="6.8" height="6.8"/>
<rect x="276.1" y="947.3" width="6.8" height="6.8"/>
<rect x="279.3" y="932.1" width="6.8" height="6.8"/>
<rect x="282.6" y="938.6" width="6.8" height="6.8"/>
<rect x="285.5" y="944.5" width="6.8" height="6.8"/>
<rect x="288.5" y="941.4" width="6.8" height="6.8"/>
<rect x="291.3" y="946.9" width="6.8" height="6.8"/>
<rect x="294.2" y="921.1" width="6.8" height="6.8"/>
<rect x="297.5" y="941.4" width="6.8" height="6.8"/>
<rect x="300.1" y="925.1" width="6.8" height="6.8"/>
<rect x="302.9" y="946.9" width="6.8" height="6.8"/>
<rect x="305.5" y="919.6" width="6.8" height="6.8"/>
<rect x="308.6" y="947.2" width="6.8" height="6.8"/>
<rect x="311.9" y="929.3" width="6.8" height="6.8"/>
<rect x="314.5" y="922.8" width="6.8" height="6.8"/>
<rect x="317.3" y="932.6" width="6.8" height="6.8"/>
<rect x="320.2" y="931.5" width="6.8" height="6.8"/>
<rect x="323.2" y="937.6" width="6.8" height="6.8"/>
<rect x="326.1" y="930.9" width="6.8" height="6.8"/>
<rect x="328.9" y="940.2" width="6.8" height="6.8"/>
<rect x="331.9" y="941.3" width="6.8" height="6.8"/>
<rect x="334.8" y="934.3" width="6.8" height="6.8"/>
<rect x="337.6" y="934.1" width="6.8" height="6.8"/>
<rect x="342.0" y="934.1" width="6.8" height="6.8"/>
<rect x="343.5" y="942.0" width="6.8" height="6.8"/>
<rect x="346.3" y="940.2" width="6.8" height="6.8"/>
<rect x="349.4" y="947.2" width="6.8" height="6.8"/>
<rect x="352.2" y="935.4" width="6.8" height="6.8"/>
<rect x="355.5" y="930.4" width="6.8" height="6.8"/>
<rect x="358.1" y="938.1" width="6.8" height="6.8"/>
<rect x="361.0" y="943.5" width="6.8" height="6.8"/>
<rect x="364.2" y="939.6" width="6.8" height="6.8"/>
<rect x="366.9" y="947.9" width="6.8" height="6.8"/>
<rect x="369.7" y="955.1" width="6.8" height="6.8"/>
<rect x="373.0" y="945.0" width="6.8" height="6.8"/>
<rect x="375.8" y="950.7" width="6.8" height="6.8"/>
<rect x="378.9" y="958.8" width="6.8" height="6.8"/>
<rect x="382.1" y="958.1" width="6.8" height="6.8"/>
<rect x="385.0" y="966.4" width="6.8" height="6.8"/>
<rect x="387.8" y="966.9" width="6.8" height="6.8"/>
<rect x="390.9" y="974.7" width="6.8" height="6.8"/>
<rect x="393.7" y="976.2" width="6.8" height="6.8"/>
<rect x="396.5" y="973.0" width="6.8" height="6.8"/>
<rect x="399.2" y="966.9" width="6.8" height="6.8"/>
<rect x="402.4" y="979.5" width="6.8" height="6.8"/>
<rect x="405.0" y="974.1" width="6.8" height="6.8"/>
<rect x="407.9" y="977.3" width="6.8" height="6.8"/>
<rect x="411.2" y="971.9" width="6.8" height="6.8"/>
<rect x="414.0" y="985.0" width="6.8" height="6.8"/>
<rect x="416.6" y="979.1" width="6.8" height="6.8"/>
<rect x="419.9" y="980.2" width="6.8" height="6.8"/>
<rect x="422.7" y="983.9" width="6.8" height="6.8"/>
<rect x="425.8" y="990.9" width="6.8" height="6.8"/>
<rect x="428.6" y="987.2" width="6.8" height="6.8"/>
<rect x="431.4" y="979.1" width="6.8" height="6.8"/>
<rect x="434.5" y="990.0" width="6.8" height="6.8"/>
<rect x="437.3" y="979.1" width="6.8" height="6.8"/>
<rect x="440.2" y="986.5" width="6.8" height="6.8"/>
<rect x="443.2" y="992.6" width="6.8" height="6.8"/>
<rect x="446.1" y="992.6" width="6.8" height="6.8"/>
<rect x="448.9" y="991.5" width="6.8" height="6.8"/>
<rect x="452.0" y="993.3" width="6.8" height="6.8"/>
<rect x="454.8" y="983.9" width="6.8" height="6.8"/>
<rect x="457.6" y="993.7" width="6.8" height="6.8"/>
<rect x="460.7" y="980.2" width="6.8" height="6.8"/>
<rect x="463.5" y="979.1" width="6.8" height="6.8"/>
<rect x="466.8" y="978.4" width="6.8" height="6.8"/>
<rect x="470.1" y="979.5" width="6.8" height="6.8"/>
<rect x="472.9" y="972.5" width="6.8" height="6.8"/>
<rect x="476.0" y="972.5" width="6.8" height="6.8"/>
<rect x="478.8" y="971.9" width="6.8" height="6.8"/>
<rect x="481.6" y="971.4" width="6.8" height="6.8"/>
<rect x="484.7" y="981.7" width="6.8" height="6.8"/>
<rect x="488.2" y="981.7" width="6.8" height="6.8"/>
<rect x="490.8" y="990.9" width="6.8" height="6.8"/>
<rect x="493.6" y="992.0" width="6.8" height="6.8"/>
<rect x="496.7" y="989.8" width="6.8" height="6.8"/>
<rect x="499.5" y="998.1" width="6.8" height="6.8"/>
<rect x="502.4" y="997.4" width="6.8" height="6.8"/>
<rect x="505.0" y="990.0" width="6.8" height="6.8"/>
<rect x="507.8" y="1002.4" width="6.8" height="6.8"/>
<rect x="510.9" y="997.0" width="6.8" height="6.8"/>
<rect x="513.7" y="993.3" width="6.8" height="6.8"/>
<rect x="517.0" y="990.9" width="6.8" height="6.8"/>
<rect x="519.6" y="992.6" width="6.8" height="6.8"/>
</g>
<rect x="435.2" y="839.9" width="6.4" height="6.4" fill="none" stroke="#3f8fd0" stroke-width="1.15"/>
<text x="465.3" y="848.8" font-size="18.1" text-anchor="start" fill="#000" font-weight="normal" >Data</text>
<path d="M416.7,865.3 L459.4,865.3" stroke="#7db9e6" stroke-width="1.9"/>
<text x="465.3" y="871" font-size="18.1" text-anchor="start" fill="#000" font-weight="normal" >Fitting</text>
<text x="107.4" y="1092.2" font-size="18.4" text-anchor="start" fill="#000" font-weight="normal" >Polariton condensate ~4.8 ps</text>
</g>
<g id="panelG">
<rect x="602.3" y="825.9" width="445.29999999999995" height="296.69999999999993" fill="none" stroke="#5c5c5c" stroke-width="1.4"/>
<path d="M602.3,1103.0 L607.6999999999999,1103.0" stroke="#5c5c5c" stroke-width="1.1"/>
<text x="595.2" y="1108.9" font-size="17.8" text-anchor="end" fill="#000" font-weight="normal" >1.0</text>
<path d="M602.3,1053.5 L607.6999999999999,1053.5" stroke="#5c5c5c" stroke-width="1.1"/>
<text x="595.2" y="1059.4" font-size="17.8" text-anchor="end" fill="#000" font-weight="normal" >1.2</text>
<path d="M602.3,1004.0 L607.6999999999999,1004.0" stroke="#5c5c5c" stroke-width="1.1"/>
<text x="595.2" y="1009.9" font-size="17.8" text-anchor="end" fill="#000" font-weight="normal" >1.4</text>
<path d="M602.3,954.5 L607.6999999999999,954.5" stroke="#5c5c5c" stroke-width="1.1"/>
<text x="595.2" y="960.4" font-size="17.8" text-anchor="end" fill="#000" font-weight="normal" >1.6</text>
<path d="M602.3,905.0 L607.6999999999999,905.0" stroke="#5c5c5c" stroke-width="1.1"/>
<text x="595.2" y="910.9" font-size="17.8" text-anchor="end" fill="#000" font-weight="normal" >1.8</text>
<path d="M602.3,855.5 L607.6999999999999,855.5" stroke="#5c5c5c" stroke-width="1.1"/>
<text x="595.2" y="861.4" font-size="17.8" text-anchor="end" fill="#000" font-weight="normal" >2.0</text>
<path d="M626.6,1122.6 L626.6,1117.1999999999998" stroke="#5c5c5c" stroke-width="1.1"/>
<text x="626.9" y="1143.2" font-size="17.8" text-anchor="middle" fill="#000" font-weight="normal" >0.0</text>
<path d="M725.9,1122.6 L725.9,1117.1999999999998" stroke="#5c5c5c" stroke-width="1.1"/>
<text x="726.2" y="1143.2" font-size="17.8" text-anchor="middle" fill="#000" font-weight="normal" >0.4</text>
<path d="M825.2,1122.6 L825.2,1117.1999999999998" stroke="#5c5c5c" stroke-width="1.1"/>
<text x="825.5" y="1143.2" font-size="17.8" text-anchor="middle" fill="#000" font-weight="normal" >0.8</text>
<path d="M924.4,1122.6 L924.4,1117.1999999999998" stroke="#5c5c5c" stroke-width="1.1"/>
<text x="924.7" y="1143.2" font-size="17.8" text-anchor="middle" fill="#000" font-weight="normal" >1.2</text>
<path d="M1023.7,1122.6 L1023.7,1117.1999999999998" stroke="#5c5c5c" stroke-width="1.1"/>
<text x="1024.0" y="1143.2" font-size="17.8" text-anchor="middle" fill="#000" font-weight="normal" >1.6</text>
<path d="M602.3,855.5 L1047.6,855.5 M602.3,1103.0 L1047.6,1103.0" stroke="#303030" stroke-width="1.3" stroke-dasharray="8.7 5.5" fill="none"/>
<text x="825.8" y="1171.8" font-size="18.7" text-anchor="middle" fill="#000" font-weight="normal" >Pump density (W cm<tspan dx="4.5" dy="-6.5" font-size="12">2</tspan><tspan dy="6.5">)</tspan></text>
<text transform="translate(560,975.8) rotate(-90)" font-size="17" text-anchor="middle"><tspan font-style="italic">g</tspan><tspan font-size="11.5" dy="-6">(2)</tspan><tspan dy="6">(0)</tspan></text>
<polyline points="665.8,884.0 725.4,994.6 785.0,1013.9 844.0,1073.3 902.8,1089.1 962.2,1096.8 1021.2,1100.5" fill="none" stroke="#2e83d3" stroke-width="1.3" stroke-dasharray="5 3"/>
<path d="M665.8,856.7 L665.8,911.2 M660.3,856.7 L671.3,856.7 M660.3,911.2 L671.3,911.2" stroke="#2e83d3" stroke-width="1.2" fill="none"/>
<circle cx="665.8" cy="884.0" r="4.6" fill="#fff" stroke="#2e83d3" stroke-width="2"/>
<path d="M725.4,983.2 L725.4,1006.0 M719.9,983.2 L730.9,983.2 M719.9,1006.0 L730.9,1006.0" stroke="#2e83d3" stroke-width="1.2" fill="none"/>
<circle cx="725.4" cy="994.6" r="4.6" fill="#fff" stroke="#2e83d3" stroke-width="2"/>
<path d="M785.0,1002.8 L785.0,1025.0 M779.5,1002.8 L790.5,1002.8 M779.5,1025.0 L790.5,1025.0" stroke="#2e83d3" stroke-width="1.2" fill="none"/>
<circle cx="785.0" cy="1013.9" r="4.6" fill="#fff" stroke="#2e83d3" stroke-width="2"/>
<circle cx="844.0" cy="1073.3" r="4.6" fill="#fff" stroke="#2e83d3" stroke-width="2"/>
<path d="M839.4,1073.3 L848.6,1073.3 M844.0,1070.7 L844.0,1075.9" stroke="#2e83d3" stroke-width="0.9" fill="none" opacity="0.8"/>
<circle cx="902.8" cy="1089.1" r="4.6" fill="#fff" stroke="#2e83d3" stroke-width="2"/>
<path d="M898.2,1089.1 L907.4,1089.1 M902.8,1086.5 L902.8,1091.7" stroke="#2e83d3" stroke-width="0.9" fill="none" opacity="0.8"/>
<path d="M962.2,1085.7 L962.2,1108.0 M956.7,1085.7 L967.7,1085.7 M956.7,1108.0 L967.7,1108.0" stroke="#2e83d3" stroke-width="1.2" fill="none"/>
<circle cx="962.2" cy="1096.8" r="4.6" fill="#fff" stroke="#2e83d3" stroke-width="2"/>
<circle cx="1021.2" cy="1100.5" r="4.6" fill="#fff" stroke="#2e83d3" stroke-width="2"/>
<path d="M1016.6,1100.5 L1025.8,1100.5 M1021.2,1097.9 L1021.2,1103.1" stroke="#2e83d3" stroke-width="0.9" fill="none" opacity="0.8"/>
<polyline points="647.9,887.2 670.3,919.6 734.6,987.4 756.4,1007.2 799.6,1054.5 844.0,1073.8 887.2,1083.7 974.1,1100.5" fill="none" stroke="#d2402e" stroke-width="1.3" stroke-dasharray="5 3"/>
<circle cx="647.9" cy="887.2" r="4.6" fill="#fff" stroke="#d2402e" stroke-width="2"/>
<path d="M643.3,887.2 L652.5,887.2 M647.9,884.6 L647.9,889.8" stroke="#d2402e" stroke-width="0.9" fill="none" opacity="0.8"/>
<path d="M670.3,912.2 L670.3,927.0 M664.8,912.2 L675.8,912.2 M664.8,927.0 L675.8,927.0" stroke="#d2402e" stroke-width="1.2" fill="none"/>
<circle cx="670.3" cy="919.6" r="4.6" fill="#fff" stroke="#d2402e" stroke-width="2"/>
<circle cx="734.6" cy="987.4" r="4.6" fill="#fff" stroke="#d2402e" stroke-width="2"/>
<path d="M730.0,987.4 L739.2,987.4 M734.6,984.8 L734.6,990.0" stroke="#d2402e" stroke-width="0.9" fill="none" opacity="0.8"/>
<circle cx="756.4" cy="1007.2" r="4.6" fill="#fff" stroke="#d2402e" stroke-width="2"/>
<path d="M751.8,1007.2 L761.0,1007.2 M756.4,1004.6 L756.4,1009.8" stroke="#d2402e" stroke-width="0.9" fill="none" opacity="0.8"/>
<circle cx="799.6" cy="1054.5" r="4.6" fill="#fff" stroke="#d2402e" stroke-width="2"/>
<path d="M795.0,1054.5 L804.2,1054.5 M799.6,1051.9 L799.6,1057.1" stroke="#d2402e" stroke-width="0.9" fill="none" opacity="0.8"/>
<circle cx="844.0" cy="1073.8" r="4.6" fill="#fff" stroke="#d2402e" stroke-width="2"/>
<path d="M839.4,1073.8 L848.6,1073.8 M844.0,1071.2 L844.0,1076.4" stroke="#d2402e" stroke-width="0.9" fill="none" opacity="0.8"/>
<circle cx="887.2" cy="1083.7" r="4.6" fill="#fff" stroke="#d2402e" stroke-width="2"/>
<path d="M882.6,1083.7 L891.8,1083.7 M887.2,1081.1 L887.2,1086.3" stroke="#d2402e" stroke-width="0.9" fill="none" opacity="0.8"/>
<circle cx="974.1" cy="1100.5" r="4.6" fill="#fff" stroke="#d2402e" stroke-width="2"/>
<path d="M969.5,1100.5 L978.7,1100.5 M974.1,1097.9 L974.1,1103.1" stroke="#d2402e" stroke-width="0.9" fill="none" opacity="0.8"/>
<path d="M614.2,1060.7 L656.4,1060.7" stroke="#2e83d3" stroke-width="1.3" stroke-dasharray="5 3"/>
<circle cx="634.5" cy="1060.7" r="4.6" fill="#fff" stroke="#2e83d3" stroke-width="2"/>
<text x="661.2" y="1066.5" font-size="18.2" text-anchor="start" fill="#000" font-weight="normal" >Data</text>
<path d="M614.2,1083.6 L656.4,1083.6" stroke="#d2402e" stroke-width="1.3" stroke-dasharray="5 3"/>
<circle cx="634.5" cy="1083.6" r="4.6" fill="#fff" stroke="#d2402e" stroke-width="2"/>
<text x="661.2" y="1089.5" font-size="17.9" text-anchor="start" fill="#000" font-weight="normal" >Theory</text>
<text x="767.6" y="1089.4" font-size="17.6">~<tspan font-style="italic">P</tspan><tspan font-size="11.6" dy="5.3">th</tspan></text>
<path d="M805,1082.6 L830,1077.6" stroke="#000" stroke-width="1.2"/>
<polygon points="836.5,1076.2 827,1074.2 828.6,1081.4" fill="#000"/>
<rect x="824.6" y="864.2" width="211.69999999999993" height="146.5999999999999" fill="#fff" stroke="#5c5c5c" stroke-width="1.1"/>
<g clip-path="url(#clipIn)">
<polyline points="823.9,980.4 829.0,981.7 834.0,980.2 839.1,979.9 844.1,976.8 849.2,975.5 854.3,974.7 859.3,970.9 864.4,966.2 869.5,958.0 874.5,955.3 879.6,958.8 884.6,965.4 889.7,971.3 894.8,983.7 899.8,993.2 904.9,980.4 910.0,963.1 915.0,945.5 920.1,920.9 925.1,896.7 930.2,890.9 935.3,900.7 940.3,926.0 945.4,951.0 950.5,970.8 955.5,984.5 960.6,988.0 965.6,985.7 970.7,978.7 975.8,968.7 980.8,955.5 985.9,952.8 991.0,965.9 996.0,978.3 1001.1,984.3 1006.1,986.7 1011.2,989.2 1016.3,990.2 1021.3,989.7 1026.4,990.5 1031.5,992.5 1036.5,994.4" fill="none" stroke="#dcebf5" stroke-width="1.0"/>
<g fill="#dcebf5"><circle cx="823.9" cy="980.4" r="3.0"/><circle cx="829.0" cy="981.7" r="3.0"/><circle cx="834.0" cy="980.2" r="3.0"/><circle cx="839.1" cy="979.9" r="3.0"/><circle cx="844.1" cy="976.8" r="3.0"/><circle cx="849.2" cy="975.5" r="3.0"/><circle cx="854.3" cy="974.7" r="3.0"/><circle cx="859.3" cy="970.9" r="3.0"/><circle cx="864.4" cy="966.2" r="3.0"/><circle cx="869.5" cy="958.0" r="3.0"/><circle cx="874.5" cy="955.3" r="3.0"/><circle cx="879.6" cy="958.8" r="3.0"/><circle cx="884.6" cy="965.4" r="3.0"/><circle cx="889.7" cy="971.3" r="3.0"/><circle cx="894.8" cy="983.7" r="3.0"/><circle cx="899.8" cy="993.2" r="3.0"/><circle cx="904.9" cy="980.4" r="3.0"/><circle cx="910.0" cy="963.1" r="3.0"/><circle cx="915.0" cy="945.5" r="3.0"/><circle cx="920.1" cy="920.9" r="3.0"/><circle cx="925.1" cy="896.7" r="3.0"/><circle cx="930.2" cy="890.9" r="3.0"/><circle cx="935.3" cy="900.7" r="3.0"/><circle cx="940.3" cy="926.0" r="3.0"/><circle cx="945.4" cy="951.0" r="3.0"/><circle cx="950.5" cy="970.8" r="3.0"/><circle cx="955.5" cy="984.5" r="3.0"/><circle cx="960.6" cy="988.0" r="3.0"/><circle cx="965.6" cy="985.7" r="3.0"/><circle cx="970.7" cy="978.7" r="3.0"/><circle cx="975.8" cy="968.7" r="3.0"/><circle cx="980.8" cy="955.5" r="3.0"/><circle cx="985.9" cy="952.8" r="3.0"/><circle cx="991.0" cy="965.9" r="3.0"/><circle cx="996.0" cy="978.3" r="3.0"/><circle cx="1001.1" cy="984.3" r="3.0"/><circle cx="1006.1" cy="986.7" r="3.0"/><circle cx="1011.2" cy="989.2" r="3.0"/><circle cx="1016.3" cy="990.2" r="3.0"/><circle cx="1021.3" cy="989.7" r="3.0"/><circle cx="1026.4" cy="990.5" r="3.0"/><circle cx="1031.5" cy="992.5" r="3.0"/><circle cx="1036.5" cy="994.4" r="3.0"/></g>
<polyline points="823.9,969.5 829.0,972.7 834.0,980.2 839.1,986.2 844.1,990.6 849.2,994.4 854.3,995.0 859.3,989.4 864.4,986.2 869.5,980.9 874.5,974.4 879.6,967.3 884.6,963.0 889.7,970.0 894.8,974.3 899.8,977.0 904.9,976.4 910.0,963.1 915.0,948.2 920.1,931.6 925.1,918.0 930.2,910.1 935.3,911.3 940.3,919.9 945.4,934.1 950.5,950.2 955.5,961.9 960.6,971.4 965.6,975.0 970.7,979.4 975.8,984.2 980.8,989.2 985.9,989.9 991.0,984.9 996.0,979.6 1001.1,976.7 1006.1,968.6 1011.2,964.6 1016.3,969.3 1021.3,976.1 1026.4,977.1 1031.5,978.9 1036.5,978.7" fill="none" stroke="#b3d2e9" stroke-width="1.0"/>
<g fill="#b3d2e9"><circle cx="823.9" cy="969.5" r="3.0"/><circle cx="829.0" cy="972.7" r="3.0"/><circle cx="834.0" cy="980.2" r="3.0"/><circle cx="839.1" cy="986.2" r="3.0"/><circle cx="844.1" cy="990.6" r="3.0"/><circle cx="849.2" cy="994.4" r="3.0"/><circle cx="854.3" cy="995.0" r="3.0"/><circle cx="859.3" cy="989.4" r="3.0"/><circle cx="864.4" cy="986.2" r="3.0"/><circle cx="869.5" cy="980.9" r="3.0"/><circle cx="874.5" cy="974.4" r="3.0"/><circle cx="879.6" cy="967.3" r="3.0"/><circle cx="884.6" cy="963.0" r="3.0"/><circle cx="889.7" cy="970.0" r="3.0"/><circle cx="894.8" cy="974.3" r="3.0"/><circle cx="899.8" cy="977.0" r="3.0"/><circle cx="904.9" cy="976.4" r="3.0"/><circle cx="910.0" cy="963.1" r="3.0"/><circle cx="915.0" cy="948.2" r="3.0"/><circle cx="920.1" cy="931.6" r="3.0"/><circle cx="925.1" cy="918.0" r="3.0"/><circle cx="930.2" cy="910.1" r="3.0"/><circle cx="935.3" cy="911.3" r="3.0"/><circle cx="940.3" cy="919.9" r="3.0"/><circle cx="945.4" cy="934.1" r="3.0"/><circle cx="950.5" cy="950.2" r="3.0"/><circle cx="955.5" cy="961.9" r="3.0"/><circle cx="960.6" cy="971.4" r="3.0"/><circle cx="965.6" cy="975.0" r="3.0"/><circle cx="970.7" cy="979.4" r="3.0"/><circle cx="975.8" cy="984.2" r="3.0"/><circle cx="980.8" cy="989.2" r="3.0"/><circle cx="985.9" cy="989.9" r="3.0"/><circle cx="991.0" cy="984.9" r="3.0"/><circle cx="996.0" cy="979.6" r="3.0"/><circle cx="1001.1" cy="976.7" r="3.0"/><circle cx="1006.1" cy="968.6" r="3.0"/><circle cx="1011.2" cy="964.6" r="3.0"/><circle cx="1016.3" cy="969.3" r="3.0"/><circle cx="1021.3" cy="976.1" r="3.0"/><circle cx="1026.4" cy="977.1" r="3.0"/><circle cx="1031.5" cy="978.9" r="3.0"/><circle cx="1036.5" cy="978.7" r="3.0"/></g>
<polyline points="823.9,966.2 829.0,968.4 834.0,975.2 839.1,976.1 844.1,977.9 849.2,979.2 854.3,980.8 859.3,981.1 864.4,981.7 869.5,979.7 874.5,977.8 879.6,974.7 884.6,973.4 889.7,975.2 894.8,976.2 899.8,977.6 904.9,978.3 910.0,975.5 915.0,968.3 920.1,958.5 925.1,950.5 930.2,948.5 935.3,954.9 940.3,963.0 945.4,968.6 950.5,973.3 955.5,976.4 960.6,978.5 965.6,980.3 970.7,982.8 975.8,980.8 980.8,980.0 985.9,977.9 991.0,976.0 996.0,975.3 1001.1,974.5 1006.1,975.6 1011.2,975.8 1016.3,979.2 1021.3,981.2 1026.4,982.2 1031.5,982.7 1036.5,981.5" fill="none" stroke="#6fb0dc" stroke-width="1.1"/>
<g fill="#6fb0dc"><circle cx="823.9" cy="966.2" r="3.0"/><circle cx="829.0" cy="968.4" r="3.0"/><circle cx="834.0" cy="975.2" r="3.0"/><circle cx="839.1" cy="976.1" r="3.0"/><circle cx="844.1" cy="977.9" r="3.0"/><circle cx="849.2" cy="979.2" r="3.0"/><circle cx="854.3" cy="980.8" r="3.0"/><circle cx="859.3" cy="981.1" r="3.0"/><circle cx="864.4" cy="981.7" r="3.0"/><circle cx="869.5" cy="979.7" r="3.0"/><circle cx="874.5" cy="977.8" r="3.0"/><circle cx="879.6" cy="974.7" r="3.0"/><circle cx="884.6" cy="973.4" r="3.0"/><circle cx="889.7" cy="975.2" r="3.0"/><circle cx="894.8" cy="976.2" r="3.0"/><circle cx="899.8" cy="977.6" r="3.0"/><circle cx="904.9" cy="978.3" r="3.0"/><circle cx="910.0" cy="975.5" r="3.0"/><circle cx="915.0" cy="968.3" r="3.0"/><circle cx="920.1" cy="958.5" r="3.0"/><circle cx="925.1" cy="950.5" r="3.0"/><circle cx="930.2" cy="948.5" r="3.0"/><circle cx="935.3" cy="954.9" r="3.0"/><circle cx="940.3" cy="963.0" r="3.0"/><circle cx="945.4" cy="968.6" r="3.0"/><circle cx="950.5" cy="973.3" r="3.0"/><circle cx="955.5" cy="976.4" r="3.0"/><circle cx="960.6" cy="978.5" r="3.0"/><circle cx="965.6" cy="980.3" r="3.0"/><circle cx="970.7" cy="982.8" r="3.0"/><circle cx="975.8" cy="980.8" r="3.0"/><circle cx="980.8" cy="980.0" r="3.0"/><circle cx="985.9" cy="977.9" r="3.0"/><circle cx="991.0" cy="976.0" r="3.0"/><circle cx="996.0" cy="975.3" r="3.0"/><circle cx="1001.1" cy="974.5" r="3.0"/><circle cx="1006.1" cy="975.6" r="3.0"/><circle cx="1011.2" cy="975.8" r="3.0"/><circle cx="1016.3" cy="979.2" r="3.0"/><circle cx="1021.3" cy="981.2" r="3.0"/><circle cx="1026.4" cy="982.2" r="3.0"/><circle cx="1031.5" cy="982.7" r="3.0"/><circle cx="1036.5" cy="981.5" r="3.0"/></g>
<polyline points="823.9,976.8 829.0,977.3 834.0,978.6 839.1,980.6 844.1,980.8 849.2,980.8 854.3,977.1 859.3,976.0 864.4,976.6 869.5,977.4 874.5,979.1 879.6,980.5 884.6,981.2 889.7,978.2 894.8,975.8 899.8,975.6 904.9,975.3 910.0,976.7 915.0,977.0 920.1,975.6 925.1,974.0 930.2,970.8 935.3,971.6 940.3,973.0 945.4,973.5 950.5,977.5 955.5,980.6 960.6,980.2 965.6,980.2 970.7,977.1 975.8,974.8 980.8,975.2 985.9,977.0 991.0,979.9 996.0,980.8 1001.1,980.7 1006.1,977.6 1011.2,976.4 1016.3,975.1 1021.3,976.9 1026.4,979.0 1031.5,979.3 1036.5,979.3" fill="none" stroke="#3b8fcd" stroke-width="1.1"/>
<g fill="#3b8fcd"><circle cx="823.9" cy="976.8" r="3.0"/><circle cx="829.0" cy="977.3" r="3.0"/><circle cx="834.0" cy="978.6" r="3.0"/><circle cx="839.1" cy="980.6" r="3.0"/><circle cx="844.1" cy="980.8" r="3.0"/><circle cx="849.2" cy="980.8" r="3.0"/><circle cx="854.3" cy="977.1" r="3.0"/><circle cx="859.3" cy="976.0" r="3.0"/><circle cx="864.4" cy="976.6" r="3.0"/><circle cx="869.5" cy="977.4" r="3.0"/><circle cx="874.5" cy="979.1" r="3.0"/><circle cx="879.6" cy="980.5" r="3.0"/><circle cx="884.6" cy="981.2" r="3.0"/><circle cx="889.7" cy="978.2" r="3.0"/><circle cx="894.8" cy="975.8" r="3.0"/><circle cx="899.8" cy="975.6" r="3.0"/><circle cx="904.9" cy="975.3" r="3.0"/><circle cx="910.0" cy="976.7" r="3.0"/><circle cx="915.0" cy="977.0" r="3.0"/><circle cx="920.1" cy="975.6" r="3.0"/><circle cx="925.1" cy="974.0" r="3.0"/><circle cx="930.2" cy="970.8" r="3.0"/><circle cx="935.3" cy="971.6" r="3.0"/><circle cx="940.3" cy="973.0" r="3.0"/><circle cx="945.4" cy="973.5" r="3.0"/><circle cx="950.5" cy="977.5" r="3.0"/><circle cx="955.5" cy="980.6" r="3.0"/><circle cx="960.6" cy="980.2" r="3.0"/><circle cx="965.6" cy="980.2" r="3.0"/><circle cx="970.7" cy="977.1" r="3.0"/><circle cx="975.8" cy="974.8" r="3.0"/><circle cx="980.8" cy="975.2" r="3.0"/><circle cx="985.9" cy="977.0" r="3.0"/><circle cx="991.0" cy="979.9" r="3.0"/><circle cx="996.0" cy="980.8" r="3.0"/><circle cx="1001.1" cy="980.7" r="3.0"/><circle cx="1006.1" cy="977.6" r="3.0"/><circle cx="1011.2" cy="976.4" r="3.0"/><circle cx="1016.3" cy="975.1" r="3.0"/><circle cx="1021.3" cy="976.9" r="3.0"/><circle cx="1026.4" cy="979.0" r="3.0"/><circle cx="1031.5" cy="979.3" r="3.0"/><circle cx="1036.5" cy="979.3" r="3.0"/></g>
<polyline points="823.9,978.3 829.0,978.4 834.0,977.5 839.1,976.7 844.1,977.6 849.2,977.7 854.3,979.2 859.3,980.3 864.4,979.7 869.5,978.0 874.5,977.5 879.6,977.0 884.6,977.5 889.7,979.4 894.8,977.9 899.8,976.7 904.9,976.0 910.0,977.5 915.0,978.9 920.1,979.8 925.1,979.8 930.2,978.8 935.3,976.9 940.3,976.1 945.4,977.2 950.5,979.0 955.5,978.8 960.6,977.7 965.6,978.3 970.7,976.6 975.8,976.7 980.8,978.1 985.9,978.7 991.0,978.8 996.0,978.4 1001.1,976.3 1006.1,977.7 1011.2,977.7 1016.3,978.1 1021.3,979.2 1026.4,978.2 1031.5,976.0 1036.5,976.6" fill="none" stroke="#0b6cbb" stroke-width="1.2"/>
<g fill="#0b6cbb"><circle cx="823.9" cy="978.3" r="3.3"/><circle cx="829.0" cy="978.4" r="3.3"/><circle cx="834.0" cy="977.5" r="3.3"/><circle cx="839.1" cy="976.7" r="3.3"/><circle cx="844.1" cy="977.6" r="3.3"/><circle cx="849.2" cy="977.7" r="3.3"/><circle cx="854.3" cy="979.2" r="3.3"/><circle cx="859.3" cy="980.3" r="3.3"/><circle cx="864.4" cy="979.7" r="3.3"/><circle cx="869.5" cy="978.0" r="3.3"/><circle cx="874.5" cy="977.5" r="3.3"/><circle cx="879.6" cy="977.0" r="3.3"/><circle cx="884.6" cy="977.5" r="3.3"/><circle cx="889.7" cy="979.4" r="3.3"/><circle cx="894.8" cy="977.9" r="3.3"/><circle cx="899.8" cy="976.7" r="3.3"/><circle cx="904.9" cy="976.0" r="3.3"/><circle cx="910.0" cy="977.5" r="3.3"/><circle cx="915.0" cy="978.9" r="3.3"/><circle cx="920.1" cy="979.8" r="3.3"/><circle cx="925.1" cy="979.8" r="3.3"/><circle cx="930.2" cy="978.8" r="3.3"/><circle cx="935.3" cy="976.9" r="3.3"/><circle cx="940.3" cy="976.1" r="3.3"/><circle cx="945.4" cy="977.2" r="3.3"/><circle cx="950.5" cy="979.0" r="3.3"/><circle cx="955.5" cy="978.8" r="3.3"/><circle cx="960.6" cy="977.7" r="3.3"/><circle cx="965.6" cy="978.3" r="3.3"/><circle cx="970.7" cy="976.6" r="3.3"/><circle cx="975.8" cy="976.7" r="3.3"/><circle cx="980.8" cy="978.1" r="3.3"/><circle cx="985.9" cy="978.7" r="3.3"/><circle cx="991.0" cy="978.8" r="3.3"/><circle cx="996.0" cy="978.4" r="3.3"/><circle cx="1001.1" cy="976.3" r="3.3"/><circle cx="1006.1" cy="977.7" r="3.3"/><circle cx="1011.2" cy="977.7" r="3.3"/><circle cx="1016.3" cy="978.1" r="3.3"/><circle cx="1021.3" cy="979.2" r="3.3"/><circle cx="1026.4" cy="978.2" r="3.3"/><circle cx="1031.5" cy="976.0" r="3.3"/><circle cx="1036.5" cy="976.6" r="3.3"/></g>
</g>
<rect x="824.6" y="864.2" width="211.69999999999993" height="146.5999999999999" fill="none" stroke="#2a2a2a" stroke-width="1.1"/>
<path d="M824.6,978.1 L828.6,978.1" stroke="#5c5c5c" stroke-width="1.1"/>
<text x="818.6" y="983.0" font-size="16.4" text-anchor="end" fill="#000" font-weight="normal" >1.0</text>
<path d="M824.6,930.5 L828.6,930.5" stroke="#5c5c5c" stroke-width="1.1"/>
<text x="818.6" y="935.4" font-size="16.4" text-anchor="end" fill="#000" font-weight="normal" >1.5</text>
<path d="M824.6,882.8 L828.6,882.8" stroke="#5c5c5c" stroke-width="1.1"/>
<text x="818.6" y="887.7" font-size="16.4" text-anchor="end" fill="#000" font-weight="normal" >2.0</text>
<path d="M829.0,1010.8 L829.0,1005.8" stroke="#5c5c5c" stroke-width="1.1"/>
<path d="M930.2,1010.8 L930.2,1005.8" stroke="#5c5c5c" stroke-width="1.1"/>
<path d="M1031.5,1010.8 L1031.5,1005.8" stroke="#5c5c5c" stroke-width="1.1"/>
<text x="829.6" y="1029.6" font-size="15.8" text-anchor="middle" fill="#000" font-weight="normal" >-100</text>
<text x="880.2" y="1029.6" font-size="15.8" text-anchor="middle" fill="#000" font-weight="normal" >-50</text>
<text x="930.2" y="1029.6" font-size="15.8" text-anchor="middle" fill="#000" font-weight="normal" >0</text>
<text x="980.8" y="1029.6" font-size="15.8" text-anchor="middle" fill="#000" font-weight="normal" >50</text>
<text x="1031.5" y="1029.6" font-size="15.8" text-anchor="middle" fill="#000" font-weight="normal" >100</text>
<text x="930.5" y="1051.2" font-size="16.2" text-anchor="middle" fill="#000" font-weight="normal" >τ (ns)</text>
<text transform="translate(789,937.3) rotate(-90)" font-size="17" text-anchor="middle"><tspan font-style="italic">g</tspan><tspan font-size="11.5" dy="-6">(2)</tspan><tspan dy="6">(τ)</tspan></text>
</g>
</svg>
</body></html>
